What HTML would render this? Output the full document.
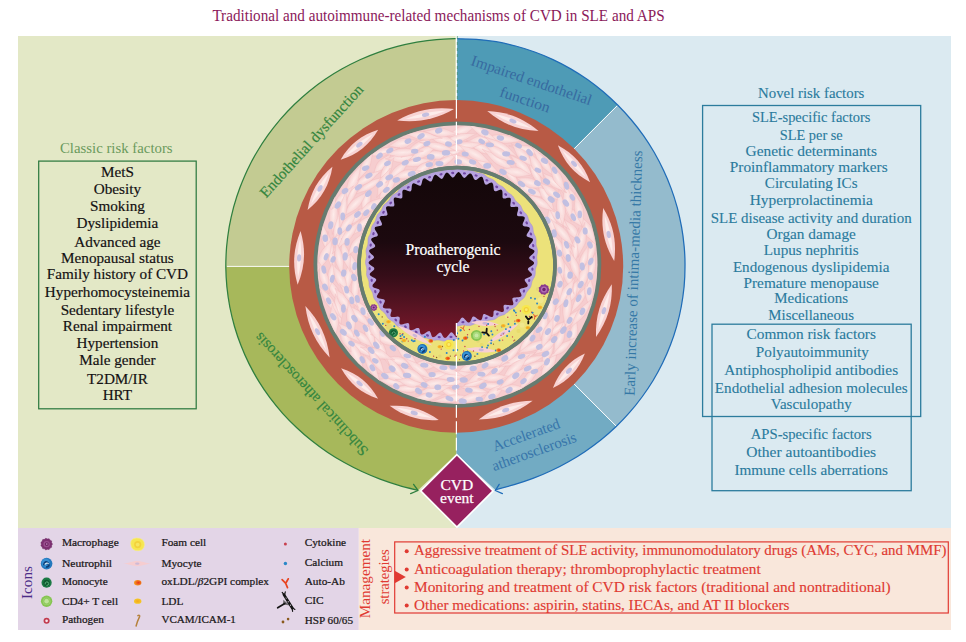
<!DOCTYPE html>
<html><head><meta charset="utf-8"><title>CVD in SLE and APS</title>
<style>html,body{margin:0;padding:0;background:#fff}body{width:966px;height:642px;overflow:hidden}svg{display:block;font-family:"Liberation Serif",serif}</style>
</head><body>
<svg width="966" height="642" viewBox="0 0 966 642">
<defs>
<linearGradient id="lum" x1="0.5" y1="0" x2="0.5" y2="1"><stop offset="0" stop-color="#130709"/><stop offset="0.42" stop-color="#1c090f"/><stop offset="0.62" stop-color="#350d18"/><stop offset="0.82" stop-color="#5a1423"/><stop offset="1" stop-color="#7c182b"/></linearGradient>
<radialGradient id="sp" cx="0.5" cy="0.5" r="0.6"><stop offset="0" stop-color="#fef1ef"/><stop offset="1" stop-color="#f6c8ca"/></radialGradient>
<clipPath id="mediaclip"><path clip-rule="evenodd" d="M317.3,264.6 a140.1,139.4 0 1,0 280.2,0 a140.1,139.4 0 1,0 -280.2,0 Z M360,265.6 a97,97 0 1,0 194,0 a97,97 0 1,0 -194,0 Z"/></clipPath>
<clipPath id="plaqueclip"><circle cx="457" cy="265.6" r="97"/></clipPath>
</defs>
<rect x="18" y="36" width="438.5" height="492" fill="#e3e8c6"/>
<rect x="456.5" y="36" width="494.5" height="492" fill="#dbeaf1"/>
<rect x="18" y="528" width="340.8" height="102" fill="#e3d5e7"/>
<rect x="358.8" y="528" width="592.2" height="102" fill="#f9e7db"/>
<path d="M456.5,38.7 C453.2,38.8 443.2,39 436.6,39.6 C430,40.1 423.4,41 416.9,42.1 C410.4,43.3 403.9,44.7 397.5,46.4 C391,48.1 384.7,50 378.4,52.3 C372.2,54.5 366,57 360,59.7 C353.9,62.5 348,65.5 342.2,68.8 C336.4,72 330.7,75.5 325.2,79.3 C319.7,83 314.4,87 309.2,91.2 C304.1,95.4 299.1,99.9 294.3,104.5 C289.5,109.2 284.9,114.1 280.5,119.1 C276.2,124.2 272,129.5 268.1,134.9 C264.2,140.3 260.5,145.9 257.1,151.7 C253.7,157.4 250.5,163.4 247.6,169.4 C244.8,175.5 242.1,181.7 239.8,188 C237.4,194.2 235.4,200.7 233.6,207.1 C231.9,213.6 230.4,220.2 229.2,226.8 C228.1,233.4 227.2,240.1 226.6,246.8 C226.1,253.5 226,263.6 225.8,266.9 L456.5,266.4 Z" fill="#c3cb92"/>
<path d="M225.8,266.9 C226,270.3 226.3,280.4 226.9,287 C227.6,293.7 228.6,300.4 229.8,307 C231.1,313.5 232.7,320.1 234.5,326.5 C236.4,333 238.5,339.3 241,345.5 C243.4,351.8 246.1,357.9 249.1,363.9 C252.1,369.8 255.3,375.7 258.8,381.3 C262.3,387 266.1,392.5 270,397.9 C274,403.2 278.2,408.3 282.6,413.3 C287,418.2 291.7,423 296.5,427.5 C301.3,432.1 306.3,436.4 311.5,440.5 C316.6,444.6 322,448.5 327.4,452.2 C332.9,455.9 338.5,459.3 344.3,462.5 C350,465.7 355.9,468.7 361.9,471.5 C367.8,474.2 373.9,476.8 380.1,479.1 C386.2,481.4 392.5,483.5 398.8,485.3 C405.2,487.2 414.8,489.5 418,490.3 L456.5,454 L456.5,266.4 Z" fill="#a7b85b"/>
<path d="M456.5,38.7 C459.8,38.8 469.8,38.8 476.4,39.3 C483,39.8 489.6,40.6 496.2,41.7 C502.7,42.8 509.2,44.3 515.6,46 C522.1,47.7 528.4,49.7 534.7,52 C540.9,54.2 547,56.8 553,59.6 C559.1,62.4 565,65.5 570.7,68.9 C576.4,72.2 582,75.8 587.5,79.6 C592.9,83.5 598.2,87.5 603.3,91.8 C608.3,96 615.4,102.9 617.8,105.1 L456.5,266.4 Z" fill="#4e9bb6"/>
<path d="M617.8,105.1 C620,107.6 627.1,114.9 631.4,120 C635.7,125.1 639.7,130.3 643.5,135.7 C647.4,141.2 650.9,146.8 654.3,152.5 C657.6,158.3 660.7,164.2 663.5,170.2 C666.4,176.2 668.9,182.4 671.2,188.6 C673.5,194.8 675.5,201.2 677.3,207.6 C679,214 680.4,220.5 681.6,227.1 C682.8,233.6 683.6,240.3 684.2,246.9 C684.8,253.5 685.1,260.2 685,266.8 C685,273.5 684.7,280.1 684.1,286.8 C683.4,293.4 682.5,300 681.3,306.5 C680.1,313 678.6,319.5 676.8,325.9 C675,332.3 672.9,338.7 670.5,344.8 C668.2,351 665.5,357.1 662.6,363.1 C659.7,369 656.5,374.9 653.1,380.5 C649.6,386.2 645.9,391.7 642,397 C638.1,402.3 633.9,407.6 629.6,412.4 C625.3,417.3 618.6,424 616.4,426.3 L456.5,266.4 Z" fill="#94bbcd"/>
<path d="M616.4,426.3 C616.3,426.3 618.5,424.5 615.9,426.7 C613.4,428.9 606.2,435.6 601.1,439.7 C596,443.8 590.6,447.7 585.2,451.4 C579.8,455.1 574.2,458.5 568.5,461.7 C562.8,465 556.9,468 551,470.7 C545.1,473.5 539,476.1 532.9,478.4 C526.7,480.7 520.5,482.8 514.2,484.7 C507.9,486.6 498.3,489 495.1,489.8 L456.5,454 L456.5,266.4 Z" fill="#72abc3"/>
<line x1="227" y1="266.4" x2="292" y2="266.4" stroke="#fff" stroke-width="0.9"/>
<line x1="573.2" y1="149.7" x2="617.8" y2="105.1" stroke="#fff" stroke-width="1"/>
<line x1="573.2" y1="383.1" x2="616.4" y2="426.3" stroke="#fff" stroke-width="1"/>
<path d="M456.5,38.7 C453.2,38.8 443.2,39 436.6,39.6 C430,40.1 423.4,41 416.9,42.1 C410.4,43.3 403.9,44.7 397.5,46.4 C391,48.1 384.7,50 378.4,52.3 C372.2,54.5 366,57 360,59.7 C353.9,62.5 348,65.5 342.2,68.8 C336.4,72 330.7,75.5 325.2,79.3 C319.7,83 314.4,87 309.2,91.2 C304.1,95.4 299.1,99.9 294.3,104.5 C289.5,109.2 284.9,114.1 280.5,119.1 C276.2,124.2 272,129.5 268.1,134.9 C264.2,140.3 260.5,145.9 257.1,151.7 C253.7,157.4 250.5,163.4 247.6,169.4 C244.8,175.5 242.1,181.7 239.8,188 C237.4,194.2 235.4,200.7 233.6,207.1 C231.9,213.6 230.4,220.2 229.2,226.8 C228.1,233.4 227.2,240.1 226.6,246.8 C226.1,253.5 225.8,260.2 225.8,266.9 C225.9,273.6 226.3,280.4 226.9,287 C227.6,293.7 228.6,300.4 229.8,307 C231.1,313.5 232.7,320.1 234.5,326.5 C236.4,333 238.5,339.3 241,345.5 C243.4,351.8 246.1,357.9 249.1,363.9 C252.1,369.8 255.3,375.7 258.8,381.3 C262.3,387 266.1,392.5 270,397.9 C274,403.2 278.2,408.3 282.6,413.3 C287,418.2 291.7,423 296.5,427.5 C301.3,432.1 306.3,436.4 311.5,440.5 C316.6,444.6 322,448.5 327.4,452.2 C332.9,455.9 338.5,459.3 344.3,462.5 C350,465.7 355.9,468.7 361.9,471.5 C367.8,474.2 373.9,476.8 380.1,479.1 C386.2,481.4 392.5,483.5 398.8,485.3 C405.2,487.2 414.8,489.5 418,490.3" fill="none" stroke="#2f7f3f" stroke-width="1.25"/>
<path d="M456.5,38.7 C459.8,38.8 469.8,38.8 476.4,39.3 C483,39.8 489.6,40.6 496.2,41.7 C502.7,42.8 509.2,44.3 515.6,46 C522.1,47.7 528.4,49.7 534.7,52 C540.9,54.2 547,56.8 553,59.6 C559.1,62.4 565,65.5 570.7,68.9 C576.4,72.2 582,75.8 587.5,79.6 C592.9,83.5 598.2,87.5 603.3,91.8 C608.3,96.1 613.2,100.6 617.9,105.3 C622.6,110 627.1,114.9 631.4,120 C635.7,125 639.7,130.3 643.5,135.7 C647.4,141.2 650.9,146.8 654.3,152.5 C657.6,158.3 660.7,164.2 663.5,170.2 C666.4,176.2 668.9,182.4 671.2,188.6 C673.5,194.8 675.5,201.2 677.3,207.6 C679,214 680.4,220.5 681.6,227.1 C682.8,233.6 683.6,240.3 684.2,246.9 C684.8,253.5 685.1,260.2 685,266.8 C685,273.5 684.7,280.1 684.1,286.8 C683.4,293.4 682.5,300 681.3,306.5 C680.1,313 678.6,319.5 676.8,325.9 C675,332.3 672.9,338.7 670.5,344.8 C668.2,351 665.5,357.1 662.6,363.1 C659.7,369 656.5,374.9 653.1,380.5 C649.6,386.2 645.9,391.7 642,397 C638.1,402.3 634,407.5 629.6,412.4 C625.3,417.4 620.7,422.2 615.9,426.7 C611.2,431.2 606.2,435.6 601.1,439.7 C596,443.8 590.6,447.7 585.2,451.4 C579.8,455.1 574.2,458.5 568.5,461.7 C562.8,465 556.9,468 551,470.7 C545.1,473.5 539,476.1 532.9,478.4 C526.7,480.7 520.5,482.8 514.2,484.7 C507.9,486.6 498.3,489 495.1,489.8" fill="none" stroke="#1f6cb8" stroke-width="1.25"/>
<path d="M413.6,484.4 L418,490.5 L410.6,493.6" fill="none" stroke="#2f7f3f" stroke-width="1.3" stroke-linecap="round" stroke-linejoin="round"/>
<path d="M499.2,484.4 L495.3,490.5 L502.4,493.6" fill="none" stroke="#1f6cb8" stroke-width="1.3" stroke-linecap="round" stroke-linejoin="round"/>
<ellipse cx="456.2" cy="266.4" rx="167" ry="166.3" fill="#b85a45"/>
<path d="M-27,0 C-8.1,-6.5 8.1,-6.5 27,0 C8.1,6.5 -8.1,6.5 -27,0 Z" fill="#f8d3d3" transform="translate(299.1,257.9) rotate(-86.9)"/>
<path d="M-19.4,0 C-5.8,-2.5 5.8,-2.5 19.4,0 C5.8,2.5 -5.8,2.5 -19.4,0 Z" fill="#fdecea" transform="translate(299.1,257.9) rotate(-86.9)"/>
<ellipse cx="299.1" cy="257.9" rx="3.7" ry="2.1" fill="#c3bfe0" transform="rotate(-86.9 299.1 257.9)"/>
<path d="M-25,0 C-7.5,-6.5 7.5,-6.5 25,0 C7.5,6.5 -7.5,6.5 -25,0 Z" fill="#f8d3d3" transform="translate(320,188.4) rotate(-60.2)"/>
<path d="M-18,0 C-5.4,-2.5 5.4,-2.5 18,0 C5.4,2.5 -5.4,2.5 -18,0 Z" fill="#fdecea" transform="translate(320,188.4) rotate(-60.2)"/>
<ellipse cx="320" cy="188.4" rx="3.7" ry="2.1" fill="#c3bfe0" transform="rotate(-60.2 320 188.4)"/>
<path d="M-24,0 C-7.2,-6.5 7.2,-6.5 24,0 C7.2,6.5 -7.2,6.5 -24,0 Z" fill="#f8d3d3" transform="translate(359.4,144.7) rotate(-38.5)"/>
<path d="M-17.3,0 C-5.2,-2.5 5.2,-2.5 17.3,0 C5.2,2.5 -5.2,2.5 -17.3,0 Z" fill="#fdecea" transform="translate(359.4,144.7) rotate(-38.5)"/>
<ellipse cx="359.4" cy="144.7" rx="3.7" ry="2.1" fill="#c3bfe0" transform="rotate(-38.5 359.4 144.7)"/>
<path d="M-29,0 C-8.7,-6.5 8.7,-6.5 29,0 C8.7,6.5 -8.7,6.5 -29,0 Z" fill="#f8d3d3" transform="translate(425.6,114.8) rotate(-11.4)"/>
<path d="M-20.9,0 C-6.3,-2.5 6.3,-2.5 20.9,0 C6.3,2.5 -6.3,2.5 -20.9,0 Z" fill="#fdecea" transform="translate(425.6,114.8) rotate(-11.4)"/>
<ellipse cx="425.6" cy="114.8" rx="3.7" ry="2.1" fill="#c3bfe0" transform="rotate(-11.4 425.6 114.8)"/>
<path d="M-27.5,0 C-8.2,-6.5 8.2,-6.5 27.5,0 C8.2,6.5 -8.2,6.5 -27.5,0 Z" fill="#f8d3d3" transform="translate(512.9,121.1) rotate(21.3)"/>
<path d="M-19.8,0 C-5.9,-2.5 5.9,-2.5 19.8,0 C5.9,2.5 -5.9,2.5 -19.8,0 Z" fill="#fdecea" transform="translate(512.9,121.1) rotate(21.3)"/>
<ellipse cx="512.9" cy="121.1" rx="3.7" ry="2.1" fill="#c3bfe0" transform="rotate(21.3 512.9 121.1)"/>
<path d="M-24.5,0 C-7.3,-6.5 7.3,-6.5 24.5,0 C7.3,6.5 -7.3,6.5 -24.5,0 Z" fill="#f8d3d3" transform="translate(574,163.7) rotate(48.9)"/>
<path d="M-17.6,0 C-5.3,-2.5 5.3,-2.5 17.6,0 C5.3,2.5 -5.3,2.5 -17.6,0 Z" fill="#fdecea" transform="translate(574,163.7) rotate(48.9)"/>
<ellipse cx="574" cy="163.7" rx="3.7" ry="2.1" fill="#c3bfe0" transform="rotate(48.9 574 163.7)"/>
<path d="M-27,0 C-8.1,-6.5 8.1,-6.5 27,0 C8.1,6.5 -8.1,6.5 -27,0 Z" fill="#f8d3d3" transform="translate(608.7,234.5) rotate(78.2)"/>
<path d="M-19.4,0 C-5.8,-2.5 5.8,-2.5 19.4,0 C5.8,2.5 -5.8,2.5 -19.4,0 Z" fill="#fdecea" transform="translate(608.7,234.5) rotate(78.2)"/>
<ellipse cx="608.7" cy="234.5" rx="3.7" ry="2.1" fill="#c3bfe0" transform="rotate(78.2 608.7 234.5)"/>
<path d="M-27.5,0 C-8.2,-6.5 8.2,-6.5 27.5,0 C8.2,6.5 -8.2,6.5 -27.5,0 Z" fill="#f8d3d3" transform="translate(603.9,310.7) rotate(106.7)"/>
<path d="M-19.8,0 C-5.9,-2.5 5.9,-2.5 19.8,0 C5.9,2.5 -5.9,2.5 -19.8,0 Z" fill="#fdecea" transform="translate(603.9,310.7) rotate(106.7)"/>
<ellipse cx="603.9" cy="310.7" rx="3.7" ry="2.1" fill="#c3bfe0" transform="rotate(106.7 603.9 310.7)"/>
<path d="M-23.5,0 C-7,-6.5 7,-6.5 23.5,0 C7,6.5 -7,6.5 -23.5,0 Z" fill="#f8d3d3" transform="translate(568.9,370.8) rotate(132.8)"/>
<path d="M-16.9,0 C-5.1,-2.5 5.1,-2.5 16.9,0 C5.1,2.5 -5.1,2.5 -16.9,0 Z" fill="#fdecea" transform="translate(568.9,370.8) rotate(132.8)"/>
<ellipse cx="568.9" cy="370.8" rx="3.7" ry="2.1" fill="#c3bfe0" transform="rotate(132.8 568.9 370.8)"/>
<path d="M-28.5,0 C-8.5,-6.5 8.5,-6.5 28.5,0 C8.5,6.5 -8.5,6.5 -28.5,0 Z" fill="#f8d3d3" transform="translate(505.7,410.1) rotate(161)"/>
<path d="M-20.5,0 C-6.2,-2.5 6.2,-2.5 20.5,0 C6.2,2.5 -6.2,2.5 -20.5,0 Z" fill="#fdecea" transform="translate(505.7,410.1) rotate(161)"/>
<ellipse cx="505.7" cy="410.1" rx="3.7" ry="2.1" fill="#c3bfe0" transform="rotate(161 505.7 410.1)"/>
<path d="M-25.5,0 C-7.6,-6.5 7.6,-6.5 25.5,0 C7.6,6.5 -7.6,6.5 -25.5,0 Z" fill="#f8d3d3" transform="translate(414.2,412.9) rotate(196)"/>
<path d="M-18.4,0 C-5.5,-2.5 5.5,-2.5 18.4,0 C5.5,2.5 -5.5,2.5 -18.4,0 Z" fill="#fdecea" transform="translate(414.2,412.9) rotate(196)"/>
<ellipse cx="414.2" cy="412.9" rx="3.7" ry="2.1" fill="#c3bfe0" transform="rotate(196 414.2 412.9)"/>
<path d="M-24,0 C-7.2,-6.5 7.2,-6.5 24,0 C7.2,6.5 -7.2,6.5 -24,0 Z" fill="#f8d3d3" transform="translate(359.6,383.5) rotate(219.5)"/>
<path d="M-17.3,0 C-5.2,-2.5 5.2,-2.5 17.3,0 C5.2,2.5 -5.2,2.5 -17.3,0 Z" fill="#fdecea" transform="translate(359.6,383.5) rotate(219.5)"/>
<ellipse cx="359.6" cy="383.5" rx="3.7" ry="2.1" fill="#c3bfe0" transform="rotate(219.5 359.6 383.5)"/>
<path d="M-28.5,0 C-8.5,-6.5 8.5,-6.5 28.5,0 C8.5,6.5 -8.5,6.5 -28.5,0 Z" fill="#f8d3d3" transform="translate(317.5,331.7) rotate(244.8)"/>
<path d="M-20.5,0 C-6.2,-2.5 6.2,-2.5 20.5,0 C6.2,2.5 -6.2,2.5 -20.5,0 Z" fill="#fdecea" transform="translate(317.5,331.7) rotate(244.8)"/>
<ellipse cx="317.5" cy="331.7" rx="3.7" ry="2.1" fill="#c3bfe0" transform="rotate(244.8 317.5 331.7)"/>
<ellipse cx="457.4" cy="264.6" rx="143.9" ry="143.2" fill="#667c70"/>
<ellipse cx="457.4" cy="264.6" rx="140.1" ry="139.4" fill="#f6cdcf"/>
<g clip-path="url(#mediaclip)">
<g transform="translate(451.1,383) rotate(167.4)" opacity="0.85"><path d="M-16.8,0 C-9.2,-1.1 -5,-4.5 0,-4.5 C5,-4.5 9.2,-1.1 16.8,0 C9.2,1.1 5,4.5 0,4.5 C-5,4.5 -9.2,1.1 -16.8,0 Z" fill="url(#sp)" stroke="#f0b4b8" stroke-width="0.35"/></g>
<g transform="translate(325,238) rotate(258)" opacity="0.85"><path d="M-17.9,0 C-9.8,-1 -5.4,-3.8 0,-3.8 C5.4,-3.8 9.8,-1 17.9,0 C9.8,1 5.4,3.8 0,3.8 C-5.4,3.8 -9.8,1 -17.9,0 Z" fill="url(#sp)" stroke="#f0b4b8" stroke-width="0.35"/></g>
<g transform="translate(493.4,386.2) rotate(185.2)" opacity="0.85"><path d="M-20.2,0 C-11.1,-0.9 -6.1,-3.8 0,-3.8 C6.1,-3.8 11.1,-0.9 20.2,0 C11.1,0.9 6.1,3.8 0,3.8 C-6.1,3.8 -11.1,0.9 -20.2,0 Z" fill="url(#sp)" stroke="#f0b4b8" stroke-width="0.35"/></g>
<g transform="translate(461.7,130.9) rotate(339)" opacity="0.85"><path d="M-16.9,0 C-9.3,-1.2 -5.1,-4.7 0,-4.7 C5.1,-4.7 9.3,-1.2 16.9,0 C9.3,1.2 5.1,4.7 0,4.7 C-5.1,4.7 -9.3,1.2 -16.9,0 Z" fill="url(#sp)" stroke="#f0b4b8" stroke-width="0.35"/></g>
<g transform="translate(476.2,382) rotate(157.3)" opacity="0.85"><path d="M-19.7,0 C-10.8,-1 -5.9,-3.9 0,-3.9 C5.9,-3.9 10.8,-1 19.7,0 C10.8,1 5.9,3.9 0,3.9 C-5.9,3.9 -10.8,1 -19.7,0 Z" fill="url(#sp)" stroke="#f0b4b8" stroke-width="0.35"/></g>
<g transform="translate(481.5,148) rotate(386.5)" opacity="0.85"><path d="M-16.9,0 C-9.3,-1.2 -5.1,-4.8 0,-4.8 C5.1,-4.8 9.3,-1.2 16.9,0 C9.3,1.2 5.1,4.8 0,4.8 C-5.1,4.8 -9.3,1.2 -16.9,0 Z" fill="url(#sp)" stroke="#f0b4b8" stroke-width="0.35"/></g>
<g transform="translate(381.7,165.3) rotate(308.3)" opacity="0.85"><path d="M-16.1,0 C-8.9,-1.2 -4.8,-4.9 0,-4.9 C4.8,-4.9 8.9,-1.2 16.1,0 C8.9,1.2 4.8,4.9 0,4.9 C-4.8,4.9 -8.9,1.2 -16.1,0 Z" fill="url(#sp)" stroke="#f0b4b8" stroke-width="0.35"/></g>
<g transform="translate(402.5,158) rotate(356.9)" opacity="0.85"><path d="M-17.3,0 C-9.5,-1.2 -5.2,-4.9 0,-4.9 C5.2,-4.9 9.5,-1.2 17.3,0 C9.5,1.2 5.2,4.9 0,4.9 C-5.2,4.9 -9.5,1.2 -17.3,0 Z" fill="url(#sp)" stroke="#f0b4b8" stroke-width="0.35"/></g>
<g transform="translate(392.2,382) rotate(190.1)" opacity="0.85"><path d="M-15.5,0 C-8.6,-1 -4.7,-4 0,-4 C4.7,-4 8.6,-1 15.5,0 C8.6,1 4.7,4 0,4 C-4.7,4 -8.6,1 -15.5,0 Z" fill="url(#sp)" stroke="#f0b4b8" stroke-width="0.35"/></g>
<g transform="translate(450.3,392.8) rotate(206.7)" opacity="0.85"><path d="M-16.5,0 C-9.1,-1 -4.9,-3.9 0,-3.9 C4.9,-3.9 9.1,-1 16.5,0 C9.1,1 4.9,3.9 0,3.9 C-4.9,3.9 -9.1,1 -16.5,0 Z" fill="url(#sp)" stroke="#f0b4b8" stroke-width="0.35"/></g>
<g transform="translate(527.1,340.8) rotate(119.2)" opacity="0.85"><path d="M-18.4,0 C-10.1,-1.2 -5.5,-4.6 0,-4.6 C5.5,-4.6 10.1,-1.2 18.4,0 C10.1,1.2 5.5,4.6 0,4.6 C-5.5,4.6 -10.1,1.2 -18.4,0 Z" fill="url(#sp)" stroke="#f0b4b8" stroke-width="0.35"/></g>
<g transform="translate(425.3,365) rotate(174.6)" opacity="0.85"><path d="M-17.5,0 C-9.6,-1.2 -5.3,-5 0,-5 C5.3,-5 9.6,-1.2 17.5,0 C9.6,1.2 5.3,5 0,5 C-5.3,5 -9.6,1.2 -17.5,0 Z" fill="url(#sp)" stroke="#f0b4b8" stroke-width="0.35"/></g>
<g transform="translate(357.5,215.9) rotate(312.5)" opacity="0.85"><path d="M-15.4,0 C-8.5,-1 -4.6,-4.1 0,-4.1 C4.6,-4.1 8.5,-1 15.4,0 C8.5,1 4.6,4.1 0,4.1 C-4.6,4.1 -8.5,1 -15.4,0 Z" fill="url(#sp)" stroke="#f0b4b8" stroke-width="0.35"/></g>
<g transform="translate(481.5,139.8) rotate(352.1)" opacity="0.85"><path d="M-16.5,0 C-9.1,-1.1 -4.9,-4.5 0,-4.5 C4.9,-4.5 9.1,-1.1 16.5,0 C9.1,1.1 4.9,4.5 0,4.5 C-4.9,4.5 -9.1,1.1 -16.5,0 Z" fill="url(#sp)" stroke="#f0b4b8" stroke-width="0.35"/></g>
<g transform="translate(476.9,390.8) rotate(194.6)" opacity="0.85"><path d="M-17.9,0 C-9.9,-1 -5.4,-3.8 0,-3.8 C5.4,-3.8 9.9,-1 17.9,0 C9.9,1 5.4,3.8 0,3.8 C-5.4,3.8 -9.9,1 -17.9,0 Z" fill="url(#sp)" stroke="#f0b4b8" stroke-width="0.35"/></g>
<g transform="translate(436.3,155) rotate(363.9)" opacity="0.85"><path d="M-18.7,0 C-10.3,-1.1 -5.6,-4.4 0,-4.4 C5.6,-4.4 10.3,-1.1 18.7,0 C10.3,1.1 5.6,4.4 0,4.4 C-5.6,4.4 -10.3,1.1 -18.7,0 Z" fill="url(#sp)" stroke="#f0b4b8" stroke-width="0.35"/></g>
<g transform="translate(498,369.8) rotate(138.6)" opacity="0.85"><path d="M-16,0 C-8.8,-1 -4.8,-3.9 0,-3.9 C4.8,-3.9 8.8,-1 16,0 C8.8,1 4.8,3.9 0,3.9 C-4.8,3.9 -8.8,1 -16,0 Z" fill="url(#sp)" stroke="#f0b4b8" stroke-width="0.35"/></g>
<g transform="translate(330.4,251.8) rotate(263.2)" opacity="0.85"><path d="M-20.8,0 C-11.5,-1 -6.2,-4.1 0,-4.1 C6.2,-4.1 11.5,-1 20.8,0 C11.5,1 6.2,4.1 0,4.1 C-6.2,4.1 -11.5,1 -20.8,0 Z" fill="url(#sp)" stroke="#f0b4b8" stroke-width="0.35"/></g>
<g transform="translate(486.9,165.6) rotate(393.3)" opacity="0.85"><path d="M-16.9,0 C-9.3,-1 -5.1,-3.9 0,-3.9 C5.1,-3.9 9.3,-1 16.9,0 C9.3,1 5.1,3.9 0,3.9 C-5.1,3.9 -9.3,1 -16.9,0 Z" fill="url(#sp)" stroke="#f0b4b8" stroke-width="0.35"/></g>
<g transform="translate(380.9,348.1) rotate(244.2)" opacity="0.85"><path d="M-20.3,0 C-11.1,-1 -6.1,-3.9 0,-3.9 C6.1,-3.9 11.1,-1 20.3,0 C11.1,1 6.1,3.9 0,3.9 C-6.1,3.9 -11.1,1 -20.3,0 Z" fill="url(#sp)" stroke="#f0b4b8" stroke-width="0.35"/></g>
<g transform="translate(557.4,328.8) rotate(146.2)" opacity="0.85"><path d="M-20,0 C-11,-0.9 -6,-3.8 0,-3.8 C6,-3.8 11,-0.9 20,0 C11,0.9 6,3.8 0,3.8 C-6,3.8 -11,0.9 -20,0 Z" fill="url(#sp)" stroke="#f0b4b8" stroke-width="0.35"/></g>
<g transform="translate(573.7,333.1) rotate(99.3)" opacity="0.85"><path d="M-16.8,0 C-9.2,-1 -5,-4.1 0,-4.1 C5,-4.1 9.2,-1 16.8,0 C9.2,1 5,4.1 0,4.1 C-5,4.1 -9.2,1 -16.8,0 Z" fill="url(#sp)" stroke="#f0b4b8" stroke-width="0.35"/></g>
<g transform="translate(529,189.9) rotate(384)" opacity="0.85"><path d="M-20.5,0 C-11.3,-1.2 -6.1,-4.7 0,-4.7 C6.1,-4.7 11.3,-1.2 20.5,0 C11.3,1.2 6.1,4.7 0,4.7 C-6.1,4.7 -11.3,1.2 -20.5,0 Z" fill="url(#sp)" stroke="#f0b4b8" stroke-width="0.35"/></g>
<g transform="translate(402.5,143.3) rotate(348.4)" opacity="0.85"><path d="M-15,0 C-8.3,-1.2 -4.5,-5 0,-5 C4.5,-5 8.3,-1.2 15,0 C8.3,1.2 4.5,5 0,5 C-4.5,5 -8.3,1.2 -15,0 Z" fill="url(#sp)" stroke="#f0b4b8" stroke-width="0.35"/></g>
<g transform="translate(387.8,187) rotate(302)" opacity="0.85"><path d="M-20.2,0 C-11.1,-1.2 -6.1,-4.9 0,-4.9 C6.1,-4.9 11.1,-1.2 20.2,0 C11.1,1.2 6.1,4.9 0,4.9 C-6.1,4.9 -11.1,1.2 -20.2,0 Z" fill="url(#sp)" stroke="#f0b4b8" stroke-width="0.35"/></g>
<g transform="translate(552,220.6) rotate(443.7)" opacity="0.85"><path d="M-18.7,0 C-10.3,-1.2 -5.6,-4.7 0,-4.7 C5.6,-4.7 10.3,-1.2 18.7,0 C10.3,1.2 5.6,4.7 0,4.7 C-5.6,4.7 -10.3,1.2 -18.7,0 Z" fill="url(#sp)" stroke="#f0b4b8" stroke-width="0.35"/></g>
<g transform="translate(480.1,375.6) rotate(149.7)" opacity="0.85"><path d="M-18.6,0 C-10.2,-1.1 -5.6,-4.3 0,-4.3 C5.6,-4.3 10.2,-1.1 18.6,0 C10.2,1.1 5.6,4.3 0,4.3 C-5.6,4.3 -10.2,1.1 -18.6,0 Z" fill="url(#sp)" stroke="#f0b4b8" stroke-width="0.35"/></g>
<g transform="translate(545.4,195.2) rotate(421.7)" opacity="0.85"><path d="M-21,0 C-11.5,-1.1 -6.3,-4.3 0,-4.3 C6.3,-4.3 11.5,-1.1 21,0 C11.5,1.1 6.3,4.3 0,4.3 C-6.3,4.3 -11.5,1.1 -21,0 Z" fill="url(#sp)" stroke="#f0b4b8" stroke-width="0.35"/></g>
<g transform="translate(579.6,299) rotate(122.2)" opacity="0.85"><path d="M-19,0 C-10.5,-1 -5.7,-3.9 0,-3.9 C5.7,-3.9 10.5,-1 19,0 C10.5,1 5.7,3.9 0,3.9 C-5.7,3.9 -10.5,1 -19,0 Z" fill="url(#sp)" stroke="#f0b4b8" stroke-width="0.35"/></g>
<g transform="translate(558.4,245.4) rotate(417.5)" opacity="0.85"><path d="M-19.4,0 C-10.7,-1 -5.8,-4 0,-4 C5.8,-4 10.7,-1 19.4,0 C10.7,1 5.8,4 0,4 C-5.8,4 -10.7,1 -19.4,0 Z" fill="url(#sp)" stroke="#f0b4b8" stroke-width="0.35"/></g>
<g transform="translate(334.6,291) rotate(238.8)" opacity="0.85"><path d="M-20.6,0 C-11.3,-1 -6.2,-4 0,-4 C6.2,-4 11.3,-1 20.6,0 C11.3,1 6.2,4 0,4 C-6.2,4 -11.3,1 -20.6,0 Z" fill="url(#sp)" stroke="#f0b4b8" stroke-width="0.35"/></g>
<g transform="translate(347.7,278.2) rotate(281.1)" opacity="0.85"><path d="M-19.6,0 C-10.8,-1.2 -5.9,-4.9 0,-4.9 C5.9,-4.9 10.8,-1.2 19.6,0 C10.8,1.2 5.9,4.9 0,4.9 C-5.9,4.9 -10.8,1.2 -19.6,0 Z" fill="url(#sp)" stroke="#f0b4b8" stroke-width="0.35"/></g>
<g transform="translate(418.2,146.2) rotate(326.9)" opacity="0.85"><path d="M-20.7,0 C-11.4,-1 -6.2,-3.9 0,-3.9 C6.2,-3.9 11.4,-1 20.7,0 C11.4,1 6.2,3.9 0,3.9 C-6.2,3.9 -11.4,1 -20.7,0 Z" fill="url(#sp)" stroke="#f0b4b8" stroke-width="0.35"/></g>
<g transform="translate(353.1,265.5) rotate(248.3)" opacity="0.85"><path d="M-20.2,0 C-11.1,-1 -6.1,-4.1 0,-4.1 C6.1,-4.1 11.1,-1 20.2,0 C11.1,1 6.1,4.1 0,4.1 C-6.1,4.1 -11.1,1 -20.2,0 Z" fill="url(#sp)" stroke="#f0b4b8" stroke-width="0.35"/></g>
<g transform="translate(569.8,320.1) rotate(133.7)" opacity="0.85"><path d="M-17.7,0 C-9.7,-1 -5.3,-4.2 0,-4.2 C5.3,-4.2 9.7,-1 17.7,0 C9.7,1 5.3,4.2 0,4.2 C-5.3,4.2 -9.7,1 -17.7,0 Z" fill="url(#sp)" stroke="#f0b4b8" stroke-width="0.35"/></g>
<g transform="translate(386.4,170.7) rotate(300.1)" opacity="0.85"><path d="M-15.1,0 C-8.3,-1.1 -4.5,-4.3 0,-4.3 C4.5,-4.3 8.3,-1.1 15.1,0 C8.3,1.1 4.5,4.3 0,4.3 C-4.5,4.3 -8.3,1.1 -15.1,0 Z" fill="url(#sp)" stroke="#f0b4b8" stroke-width="0.35"/></g>
<g transform="translate(528.9,360.8) rotate(161.5)" opacity="0.85"><path d="M-19.2,0 C-10.5,-1 -5.7,-3.8 0,-3.8 C5.7,-3.8 10.5,-1 19.2,0 C10.5,1 5.7,3.8 0,3.8 C-5.7,3.8 -10.5,1 -19.2,0 Z" fill="url(#sp)" stroke="#f0b4b8" stroke-width="0.35"/></g>
<g transform="translate(555.4,317.2) rotate(106.5)" opacity="0.85"><path d="M-17.8,0 C-9.8,-1 -5.3,-4.2 0,-4.2 C5.3,-4.2 9.8,-1 17.8,0 C9.8,1 5.3,4.2 0,4.2 C-5.3,4.2 -9.8,1 -17.8,0 Z" fill="url(#sp)" stroke="#f0b4b8" stroke-width="0.35"/></g>
<g transform="translate(572.4,230.5) rotate(413.2)" opacity="0.85"><path d="M-15.3,0 C-8.4,-1.2 -4.6,-4.7 0,-4.7 C4.6,-4.7 8.4,-1.2 15.3,0 C8.4,1.2 4.6,4.7 0,4.7 C-4.6,4.7 -8.4,1.2 -15.3,0 Z" fill="url(#sp)" stroke="#f0b4b8" stroke-width="0.35"/></g>
<g transform="translate(423.4,152.4) rotate(331.3)" opacity="0.85"><path d="M-18.1,0 C-10,-1.2 -5.4,-4.9 0,-4.9 C5.4,-4.9 10,-1.2 18.1,0 C10,1.2 5.4,4.9 0,4.9 C-5.4,4.9 -10,1.2 -18.1,0 Z" fill="url(#sp)" stroke="#f0b4b8" stroke-width="0.35"/></g>
<g transform="translate(342.5,238.6) rotate(303.8)" opacity="0.85"><path d="M-18.7,0 C-10.3,-1.1 -5.6,-4.6 0,-4.6 C5.6,-4.6 10.3,-1.1 18.7,0 C10.3,1.1 5.6,4.6 0,4.6 C-5.6,4.6 -10.3,1.1 -18.7,0 Z" fill="url(#sp)" stroke="#f0b4b8" stroke-width="0.35"/></g>
<g transform="translate(522,166.2) rotate(404.1)" opacity="0.85"><path d="M-17.3,0 C-9.5,-1.2 -5.2,-4.8 0,-4.8 C5.2,-4.8 9.5,-1.2 17.3,0 C9.5,1.2 5.2,4.8 0,4.8 C-5.2,4.8 -9.5,1.2 -17.3,0 Z" fill="url(#sp)" stroke="#f0b4b8" stroke-width="0.35"/></g>
<g transform="translate(338.1,309.7) rotate(260.3)" opacity="0.85"><path d="M-16.2,0 C-8.9,-1.2 -4.8,-4.9 0,-4.9 C4.8,-4.9 8.9,-1.2 16.2,0 C8.9,1.2 4.8,4.9 0,4.9 C-4.8,4.9 -8.9,1.2 -16.2,0 Z" fill="url(#sp)" stroke="#f0b4b8" stroke-width="0.35"/></g>
<g transform="translate(366.2,199.8) rotate(283.1)" opacity="0.85"><path d="M-15.9,0 C-8.8,-1.2 -4.8,-4.6 0,-4.6 C4.8,-4.6 8.8,-1.2 15.9,0 C8.8,1.2 4.8,4.6 0,4.6 C-4.8,4.6 -8.8,1.2 -15.9,0 Z" fill="url(#sp)" stroke="#f0b4b8" stroke-width="0.35"/></g>
<g transform="translate(549,364.4) rotate(122.6)" opacity="0.85"><path d="M-17.4,0 C-9.6,-1.2 -5.2,-5 0,-5 C5.2,-5 9.6,-1.2 17.4,0 C9.6,1.2 5.2,5 0,5 C-5.2,5 -9.6,1.2 -17.4,0 Z" fill="url(#sp)" stroke="#f0b4b8" stroke-width="0.35"/></g>
<g transform="translate(369.5,334.1) rotate(252.7)" opacity="0.85"><path d="M-18.7,0 C-10.3,-1.2 -5.6,-4.7 0,-4.7 C5.6,-4.7 10.3,-1.2 18.7,0 C10.3,1.2 5.6,4.7 0,4.7 C-5.6,4.7 -10.3,1.2 -18.7,0 Z" fill="url(#sp)" stroke="#f0b4b8" stroke-width="0.35"/></g>
<g transform="translate(518,359.7) rotate(158.4)" opacity="0.85"><path d="M-20.7,0 C-11.4,-1.2 -6.2,-4.7 0,-4.7 C6.2,-4.7 11.4,-1.2 20.7,0 C11.4,1.2 6.2,4.7 0,4.7 C-6.2,4.7 -11.4,1.2 -20.7,0 Z" fill="url(#sp)" stroke="#f0b4b8" stroke-width="0.35"/></g>
<g transform="translate(503.1,138.9) rotate(367.3)" opacity="0.85"><path d="M-20.9,0 C-11.5,-1.1 -6.3,-4.4 0,-4.4 C6.3,-4.4 11.5,-1.1 20.9,0 C11.5,1.1 6.3,4.4 0,4.4 C-6.3,4.4 -11.5,1.1 -20.9,0 Z" fill="url(#sp)" stroke="#f0b4b8" stroke-width="0.35"/></g>
<g transform="translate(362.2,224.8) rotate(314.7)" opacity="0.85"><path d="M-16.1,0 C-8.9,-1 -4.8,-4.1 0,-4.1 C4.8,-4.1 8.9,-1 16.1,0 C8.9,1 4.8,4.1 0,4.1 C-4.8,4.1 -8.9,1 -16.1,0 Z" fill="url(#sp)" stroke="#f0b4b8" stroke-width="0.35"/></g>
<g transform="translate(535.7,174.1) rotate(422.7)" opacity="0.85"><path d="M-16.7,0 C-9.2,-1 -5,-3.8 0,-3.8 C5,-3.8 9.2,-1 16.7,0 C9.2,1 5,3.8 0,3.8 C-5,3.8 -9.2,1 -16.7,0 Z" fill="url(#sp)" stroke="#f0b4b8" stroke-width="0.35"/></g>
<g transform="translate(568,192.3) rotate(401)" opacity="0.85"><path d="M-18.8,0 C-10.4,-1 -5.6,-4.1 0,-4.1 C5.6,-4.1 10.4,-1 18.8,0 C10.4,1 5.6,4.1 0,4.1 C-5.6,4.1 -10.4,1 -18.8,0 Z" fill="url(#sp)" stroke="#f0b4b8" stroke-width="0.35"/></g>
<g transform="translate(527.6,149.7) rotate(371.8)" opacity="0.85"><path d="M-19.3,0 C-10.6,-1 -5.8,-4 0,-4 C5.8,-4 10.6,-1 19.3,0 C10.6,1 5.8,4 0,4 C-5.8,4 -10.6,1 -19.3,0 Z" fill="url(#sp)" stroke="#f0b4b8" stroke-width="0.35"/></g>
<g transform="translate(324.7,255.2) rotate(294.8)" opacity="0.85"><path d="M-19.8,0 C-10.9,-1.2 -5.9,-4.8 0,-4.8 C5.9,-4.8 10.9,-1.2 19.8,0 C10.9,1.2 5.9,4.8 0,4.8 C-5.9,4.8 -10.9,1.2 -19.8,0 Z" fill="url(#sp)" stroke="#f0b4b8" stroke-width="0.35"/></g>
<g transform="translate(345.8,255.2) rotate(255.4)" opacity="0.85"><path d="M-17.7,0 C-9.7,-1.1 -5.3,-4.4 0,-4.4 C5.3,-4.4 9.7,-1.1 17.7,0 C9.7,1.1 5.3,4.4 0,4.4 C-5.3,4.4 -9.7,1.1 -17.7,0 Z" fill="url(#sp)" stroke="#f0b4b8" stroke-width="0.35"/></g>
<g transform="translate(337,228.4) rotate(273.3)" opacity="0.85"><path d="M-20.3,0 C-11.2,-1 -6.1,-3.9 0,-3.9 C6.1,-3.9 11.2,-1 20.3,0 C11.2,1 6.1,3.9 0,3.9 C-6.1,3.9 -11.2,1 -20.3,0 Z" fill="url(#sp)" stroke="#f0b4b8" stroke-width="0.35"/></g>
<g transform="translate(493.6,393.2) rotate(141.1)" opacity="0.85"><path d="M-17.2,0 C-9.5,-1.2 -5.2,-4.8 0,-4.8 C5.2,-4.8 9.5,-1.2 17.2,0 C9.5,1.2 5.2,4.8 0,4.8 C-5.2,4.8 -9.5,1.2 -17.2,0 Z" fill="url(#sp)" stroke="#f0b4b8" stroke-width="0.35"/></g>
<g transform="translate(550.9,307.3) rotate(90.9)" opacity="0.85"><path d="M-18.8,0 C-10.3,-1.1 -5.6,-4.5 0,-4.5 C5.6,-4.5 10.3,-1.1 18.8,0 C10.3,1.1 5.6,4.5 0,4.5 C-5.6,4.5 -10.3,1.1 -18.8,0 Z" fill="url(#sp)" stroke="#f0b4b8" stroke-width="0.35"/></g>
<g transform="translate(397.7,360.7) rotate(189.2)" opacity="0.85"><path d="M-17.1,0 C-9.4,-1.1 -5.1,-4.3 0,-4.3 C5.1,-4.3 9.4,-1.1 17.1,0 C9.4,1.1 5.1,4.3 0,4.3 C-5.1,4.3 -9.4,1.1 -17.1,0 Z" fill="url(#sp)" stroke="#f0b4b8" stroke-width="0.35"/></g>
<g transform="translate(370,185.2) rotate(329)" opacity="0.85"><path d="M-17.8,0 C-9.8,-1 -5.3,-3.9 0,-3.9 C5.3,-3.9 9.8,-1 17.8,0 C9.8,1 5.3,3.9 0,3.9 C-5.3,3.9 -9.8,1 -17.8,0 Z" fill="url(#sp)" stroke="#f0b4b8" stroke-width="0.35"/></g>
<g transform="translate(355.8,244.2) rotate(305.1)" opacity="0.85"><path d="M-15.9,0 C-8.7,-1 -4.8,-4 0,-4 C4.8,-4 8.7,-1 15.9,0 C8.7,1 4.8,4 0,4 C-4.8,4 -8.7,1 -15.9,0 Z" fill="url(#sp)" stroke="#f0b4b8" stroke-width="0.35"/></g>
<g transform="translate(353,191.3) rotate(292.3)" opacity="0.85"><path d="M-20.8,0 C-11.5,-1 -6.3,-3.9 0,-3.9 C6.3,-3.9 11.5,-1 20.8,0 C11.5,1 6.3,3.9 0,3.9 C-6.3,3.9 -11.5,1 -20.8,0 Z" fill="url(#sp)" stroke="#f0b4b8" stroke-width="0.35"/></g>
<g transform="translate(355.1,288.3) rotate(272.7)" opacity="0.85"><path d="M-20.2,0 C-11.1,-1 -6.1,-3.9 0,-3.9 C6.1,-3.9 11.1,-1 20.2,0 C11.1,1 6.1,3.9 0,3.9 C-6.1,3.9 -11.1,1 -20.2,0 Z" fill="url(#sp)" stroke="#f0b4b8" stroke-width="0.35"/></g>
<g transform="translate(408.6,388.7) rotate(180.3)" opacity="0.85"><path d="M-18.3,0 C-10.1,-1 -5.5,-3.8 0,-3.8 C5.5,-3.8 10.1,-1 18.3,0 C10.1,1 5.5,3.8 0,3.8 C-5.5,3.8 -10.1,1 -18.3,0 Z" fill="url(#sp)" stroke="#f0b4b8" stroke-width="0.35"/></g>
<g transform="translate(589.1,290.8) rotate(89.6)" opacity="0.85"><path d="M-18,0 C-9.9,-1.2 -5.4,-4.6 0,-4.6 C5.4,-4.6 9.9,-1.2 18,0 C9.9,1.2 5.4,4.6 0,4.6 C-5.4,4.6 -9.9,1.2 -18,0 Z" fill="url(#sp)" stroke="#f0b4b8" stroke-width="0.35"/></g>
<g transform="translate(407.5,356.8) rotate(223.2)" opacity="0.85"><path d="M-17.1,0 C-9.4,-1.1 -5.1,-4.4 0,-4.4 C5.1,-4.4 9.4,-1.1 17.1,0 C9.4,1.1 5.1,4.4 0,4.4 C-5.1,4.4 -9.4,1.1 -17.1,0 Z" fill="url(#sp)" stroke="#f0b4b8" stroke-width="0.35"/></g>
<g transform="translate(530.3,182.9) rotate(380.4)" opacity="0.85"><path d="M-15.5,0 C-8.5,-1.2 -4.7,-4.8 0,-4.8 C4.7,-4.8 8.5,-1.2 15.5,0 C8.5,1.2 4.7,4.8 0,4.8 C-4.7,4.8 -8.5,1.2 -15.5,0 Z" fill="url(#sp)" stroke="#f0b4b8" stroke-width="0.35"/></g>
<g transform="translate(454.5,152.3) rotate(335)" opacity="0.85"><path d="M-15.6,0 C-8.6,-1 -4.7,-4.1 0,-4.1 C4.7,-4.1 8.6,-1 15.6,0 C8.6,1 4.7,4.1 0,4.1 C-4.7,4.1 -8.6,1 -15.6,0 Z" fill="url(#sp)" stroke="#f0b4b8" stroke-width="0.35"/></g>
<g transform="translate(348.6,234.5) rotate(308.7)" opacity="0.85"><path d="M-20.4,0 C-11.2,-1 -6.1,-4 0,-4 C6.1,-4 11.2,-1 20.4,0 C11.2,1 6.1,4 0,4 C-6.1,4 -11.2,1 -20.4,0 Z" fill="url(#sp)" stroke="#f0b4b8" stroke-width="0.35"/></g>
<g transform="translate(575.7,248.2) rotate(458.7)" opacity="0.85"><path d="M-20.5,0 C-11.3,-1.1 -6.1,-4.4 0,-4.4 C6.1,-4.4 11.3,-1.1 20.5,0 C11.3,1.1 6.1,4.4 0,4.4 C-6.1,4.4 -11.3,1.1 -20.5,0 Z" fill="url(#sp)" stroke="#f0b4b8" stroke-width="0.35"/></g>
<g transform="translate(551.9,192.5) rotate(399)" opacity="0.85"><path d="M-16.6,0 C-9.1,-1.1 -5,-4.4 0,-4.4 C5,-4.4 9.1,-1.1 16.6,0 C9.1,1.1 5,4.4 0,4.4 C-5,4.4 -9.1,1.1 -16.6,0 Z" fill="url(#sp)" stroke="#f0b4b8" stroke-width="0.35"/></g>
<g transform="translate(558.5,217.7) rotate(407.5)" opacity="0.85"><path d="M-16.4,0 C-9,-1 -4.9,-3.9 0,-3.9 C4.9,-3.9 9,-1 16.4,0 C9,1 4.9,3.9 0,3.9 C-4.9,3.9 -9,1 -16.4,0 Z" fill="url(#sp)" stroke="#f0b4b8" stroke-width="0.35"/></g>
<g transform="translate(491.8,362.4) rotate(181.3)" opacity="0.85"><path d="M-17.8,0 C-9.8,-1.2 -5.3,-4.9 0,-4.9 C5.3,-4.9 9.8,-1.2 17.8,0 C9.8,1.2 5.3,4.9 0,4.9 C-5.3,4.9 -9.8,1.2 -17.8,0 Z" fill="url(#sp)" stroke="#f0b4b8" stroke-width="0.35"/></g>
<g transform="translate(458.8,138.1) rotate(345.5)" opacity="0.85"><path d="M-20.5,0 C-11.3,-1 -6.2,-4 0,-4 C6.2,-4 11.3,-1 20.5,0 C11.3,1 6.2,4 0,4 C-6.2,4 -11.3,1 -20.5,0 Z" fill="url(#sp)" stroke="#f0b4b8" stroke-width="0.35"/></g>
<g transform="translate(371.8,368.1) rotate(239)" opacity="0.85"><path d="M-17.5,0 C-9.6,-1 -5.3,-3.8 0,-3.8 C5.3,-3.8 9.6,-1 17.5,0 C9.6,1 5.3,3.8 0,3.8 C-5.3,3.8 -9.6,1 -17.5,0 Z" fill="url(#sp)" stroke="#f0b4b8" stroke-width="0.35"/></g>
<g transform="translate(439,376) rotate(173.3)" opacity="0.85"><path d="M-20.2,0 C-11.1,-1.2 -6.1,-4.8 0,-4.8 C6.1,-4.8 11.1,-1.2 20.2,0 C11.1,1.2 6.1,4.8 0,4.8 C-6.1,4.8 -11.1,1.2 -20.2,0 Z" fill="url(#sp)" stroke="#f0b4b8" stroke-width="0.35"/></g>
<g transform="translate(573.8,291) rotate(120.1)" opacity="0.85"><path d="M-20.3,0 C-11.2,-1.2 -6.1,-5 0,-5 C6.1,-5 11.2,-1.2 20.3,0 C11.2,1.2 6.1,5 0,5 C-6.1,5 -11.2,1.2 -20.3,0 Z" fill="url(#sp)" stroke="#f0b4b8" stroke-width="0.35"/></g>
<g transform="translate(443.7,161.9) rotate(329.3)" opacity="0.85"><path d="M-18.7,0 C-10.3,-1 -5.6,-3.8 0,-3.8 C5.6,-3.8 10.3,-1 18.7,0 C10.3,1 5.6,3.8 0,3.8 C-5.6,3.8 -10.3,1 -18.7,0 Z" fill="url(#sp)" stroke="#f0b4b8" stroke-width="0.35"/></g>
<g transform="translate(416.3,162.4) rotate(349.6)" opacity="0.85"><path d="M-17.2,0 C-9.5,-1 -5.2,-4.2 0,-4.2 C5.2,-4.2 9.5,-1 17.2,0 C9.5,1 5.2,4.2 0,4.2 C-5.2,4.2 -9.5,1 -17.2,0 Z" fill="url(#sp)" stroke="#f0b4b8" stroke-width="0.35"/></g>
<g transform="translate(482.9,132.9) rotate(390.2)" opacity="0.85"><path d="M-19.7,0 C-10.8,-0.9 -5.9,-3.8 0,-3.8 C5.9,-3.8 10.8,-0.9 19.7,0 C10.8,0.9 5.9,3.8 0,3.8 C-5.9,3.8 -10.8,0.9 -19.7,0 Z" fill="url(#sp)" stroke="#f0b4b8" stroke-width="0.35"/></g>
<g transform="translate(395.6,376.4) rotate(190.2)" opacity="0.85"><path d="M-18.2,0 C-10,-1.1 -5.5,-4.3 0,-4.3 C5.5,-4.3 10,-1.1 18.2,0 C10,1.1 5.5,4.3 0,4.3 C-5.5,4.3 -10,1.1 -18.2,0 Z" fill="url(#sp)" stroke="#f0b4b8" stroke-width="0.35"/></g>
<g transform="translate(547.9,352.8) rotate(111.6)" opacity="0.85"><path d="M-19.5,0 C-10.7,-1.1 -5.8,-4.3 0,-4.3 C5.8,-4.3 10.7,-1.1 19.5,0 C10.7,1.1 5.8,4.3 0,4.3 C-5.8,4.3 -10.7,1.1 -19.5,0 Z" fill="url(#sp)" stroke="#f0b4b8" stroke-width="0.35"/></g>
<g transform="translate(561.5,348.2) rotate(141.3)" opacity="0.85"><path d="M-16.5,0 C-9.1,-1 -4.9,-4.1 0,-4.1 C4.9,-4.1 9.1,-1 16.5,0 C9.1,1 4.9,4.1 0,4.1 C-4.9,4.1 -9.1,1 -16.5,0 Z" fill="url(#sp)" stroke="#f0b4b8" stroke-width="0.35"/></g>
<g transform="translate(573.8,216.1) rotate(405.9)" opacity="0.85"><path d="M-19.4,0 C-10.7,-1.2 -5.8,-4.8 0,-4.8 C5.8,-4.8 10.7,-1.2 19.4,0 C10.7,1.2 5.8,4.8 0,4.8 C-5.8,4.8 -10.7,1.2 -19.4,0 Z" fill="url(#sp)" stroke="#f0b4b8" stroke-width="0.35"/></g>
<g transform="translate(366,179.4) rotate(329.5)" opacity="0.85"><path d="M-19.3,0 C-10.6,-1 -5.8,-4.1 0,-4.1 C5.8,-4.1 10.6,-1 19.3,0 C10.6,1 5.8,4.1 0,4.1 C-5.8,4.1 -10.6,1 -19.3,0 Z" fill="url(#sp)" stroke="#f0b4b8" stroke-width="0.35"/></g>
<g transform="translate(511,175.3) rotate(412.5)" opacity="0.85"><path d="M-16,0 C-8.8,-0.9 -4.8,-3.8 0,-3.8 C4.8,-3.8 8.8,-0.9 16,0 C8.8,0.9 4.8,3.8 0,3.8 C-4.8,3.8 -8.8,0.9 -16,0 Z" fill="url(#sp)" stroke="#f0b4b8" stroke-width="0.35"/></g>
<g transform="translate(346.9,223.4) rotate(309.9)" opacity="0.85"><path d="M-19.2,0 C-10.5,-1.1 -5.7,-4.5 0,-4.5 C5.7,-4.5 10.5,-1.1 19.2,0 C10.5,1.1 5.7,4.5 0,4.5 C-5.7,4.5 -10.5,1.1 -19.2,0 Z" fill="url(#sp)" stroke="#f0b4b8" stroke-width="0.35"/></g>
<g transform="translate(514.5,368.7) rotate(137.4)" opacity="0.85"><path d="M-20.8,0 C-11.4,-1.2 -6.2,-5 0,-5 C6.2,-5 11.4,-1.2 20.8,0 C11.4,1.2 6.2,5 0,5 C-6.2,5 -11.4,1.2 -20.8,0 Z" fill="url(#sp)" stroke="#f0b4b8" stroke-width="0.35"/></g>
<g transform="translate(362.3,337.9) rotate(221.4)" opacity="0.85"><path d="M-15.3,0 C-8.4,-1.1 -4.6,-4.5 0,-4.5 C4.6,-4.5 8.4,-1.1 15.3,0 C8.4,1.1 4.6,4.5 0,4.5 C-4.6,4.5 -8.4,1.1 -15.3,0 Z" fill="url(#sp)" stroke="#f0b4b8" stroke-width="0.35"/></g>
<g transform="translate(443.5,140.3) rotate(374.5)" opacity="0.85"><path d="M-16.9,0 C-9.3,-1.2 -5.1,-4.8 0,-4.8 C5.1,-4.8 9.3,-1.2 16.9,0 C9.3,1.2 5.1,4.8 0,4.8 C-5.1,4.8 -9.3,1.2 -16.9,0 Z" fill="url(#sp)" stroke="#f0b4b8" stroke-width="0.35"/></g>
<g transform="translate(451.6,398.7) rotate(171.8)" opacity="0.85"><path d="M-21,0 C-11.5,-0.9 -6.3,-3.8 0,-3.8 C6.3,-3.8 11.5,-0.9 21,0 C11.5,0.9 6.3,3.8 0,3.8 C-6.3,3.8 -11.5,0.9 -21,0 Z" fill="url(#sp)" stroke="#f0b4b8" stroke-width="0.35"/></g>
<g transform="translate(561,207.8) rotate(443.4)" opacity="0.85"><path d="M-19.9,0 C-10.9,-1.1 -6,-4.5 0,-4.5 C6,-4.5 10.9,-1.1 19.9,0 C10.9,1.1 6,4.5 0,4.5 C-6,4.5 -10.9,1.1 -19.9,0 Z" fill="url(#sp)" stroke="#f0b4b8" stroke-width="0.35"/></g>
<g transform="translate(590.3,253.1) rotate(468.7)" opacity="0.85"><path d="M-18.5,0 C-10.2,-1.1 -5.5,-4.2 0,-4.2 C5.5,-4.2 10.2,-1.1 18.5,0 C10.2,1.1 5.5,4.2 0,4.2 C-5.5,4.2 -10.2,1.1 -18.5,0 Z" fill="url(#sp)" stroke="#f0b4b8" stroke-width="0.35"/></g>
<g transform="translate(567.8,275.6) rotate(71.5)" opacity="0.85"><path d="M-19.7,0 C-10.9,-1.1 -5.9,-4.3 0,-4.3 C5.9,-4.3 10.9,-1.1 19.7,0 C10.9,1.1 5.9,4.3 0,4.3 C-5.9,4.3 -10.9,1.1 -19.7,0 Z" fill="url(#sp)" stroke="#f0b4b8" stroke-width="0.35"/></g>
<g transform="translate(466.1,162) rotate(388.3)" opacity="0.85"><path d="M-18.6,0 C-10.2,-1.1 -5.6,-4.3 0,-4.3 C5.6,-4.3 10.2,-1.1 18.6,0 C10.2,1.1 5.6,4.3 0,4.3 C-5.6,4.3 -10.2,1.1 -18.6,0 Z" fill="url(#sp)" stroke="#f0b4b8" stroke-width="0.35"/></g>
<g transform="translate(331.5,274.4) rotate(280.9)" opacity="0.85"><path d="M-17.4,0 C-9.6,-0.9 -5.2,-3.8 0,-3.8 C5.2,-3.8 9.6,-0.9 17.4,0 C9.6,0.9 5.2,3.8 0,3.8 C-5.2,3.8 -9.6,0.9 -17.4,0 Z" fill="url(#sp)" stroke="#f0b4b8" stroke-width="0.35"/></g>
<g transform="translate(501.5,147.1) rotate(391.4)" opacity="0.85"><path d="M-20.5,0 C-11.3,-1 -6.2,-4.1 0,-4.1 C6.2,-4.1 11.3,-1 20.5,0 C11.3,1 6.2,4.1 0,4.1 C-6.2,4.1 -11.3,1 -20.5,0 Z" fill="url(#sp)" stroke="#f0b4b8" stroke-width="0.35"/></g>
<g transform="translate(546,346.2) rotate(144.7)" opacity="0.85"><path d="M-15.5,0 C-8.5,-1.2 -4.7,-4.8 0,-4.8 C4.7,-4.8 8.5,-1.2 15.5,0 C8.5,1.2 4.7,4.8 0,4.8 C-4.7,4.8 -8.5,1.2 -15.5,0 Z" fill="url(#sp)" stroke="#f0b4b8" stroke-width="0.35"/></g>
<g transform="translate(362.3,349.3) rotate(211)" opacity="0.85"><path d="M-21,0 C-11.5,-1 -6.3,-4.1 0,-4.1 C6.3,-4.1 11.5,-1 21,0 C11.5,1 6.3,4.1 0,4.1 C-6.3,4.1 -11.5,1 -21,0 Z" fill="url(#sp)" stroke="#f0b4b8" stroke-width="0.35"/></g>
<g transform="translate(422.7,135.9) rotate(366.8)" opacity="0.85"><path d="M-19.9,0 C-10.9,-1.1 -6,-4.3 0,-4.3 C6,-4.3 10.9,-1.1 19.9,0 C10.9,1.1 6,4.3 0,4.3 C-6,4.3 -10.9,1.1 -19.9,0 Z" fill="url(#sp)" stroke="#f0b4b8" stroke-width="0.35"/></g>
<g transform="translate(471.1,397.8) rotate(162.5)" opacity="0.85"><path d="M-18.6,0 C-10.2,-1.1 -5.6,-4.5 0,-4.5 C5.6,-4.5 10.2,-1.1 18.6,0 C10.2,1.1 5.6,4.5 0,4.5 C-5.6,4.5 -10.2,1.1 -18.6,0 Z" fill="url(#sp)" stroke="#f0b4b8" stroke-width="0.35"/></g>
<g transform="translate(422.8,168.4) rotate(324.3)" opacity="0.85"><path d="M-15.7,0 C-8.6,-1.1 -4.7,-4.5 0,-4.5 C4.7,-4.5 8.6,-1.1 15.7,0 C8.6,1.1 4.7,4.5 0,4.5 C-4.7,4.5 -8.6,1.1 -15.7,0 Z" fill="url(#sp)" stroke="#f0b4b8" stroke-width="0.35"/></g>
<g transform="translate(565.3,294) rotate(121.2)" opacity="0.85"><path d="M-20.6,0 C-11.3,-1.2 -6.2,-5 0,-5 C6.2,-5 11.3,-1.2 20.6,0 C11.3,1.2 6.2,5 0,5 C-6.2,5 -11.3,1.2 -20.6,0 Z" fill="url(#sp)" stroke="#f0b4b8" stroke-width="0.35"/></g>
<g transform="translate(567.9,253.1) rotate(430)" opacity="0.85"><path d="M-19.8,0 C-10.9,-1.2 -5.9,-5 0,-5 C5.9,-5 10.9,-1.2 19.8,0 C10.9,1.2 5.9,5 0,5 C-5.9,5 -10.9,1.2 -19.8,0 Z" fill="url(#sp)" stroke="#f0b4b8" stroke-width="0.35"/></g>
<g transform="translate(568,201.3) rotate(441.1)" opacity="0.85"><path d="M-20.5,0 C-11.3,-1.2 -6.1,-4.8 0,-4.8 C6.1,-4.8 11.3,-1.2 20.5,0 C11.3,1.2 6.1,4.8 0,4.8 C-6.1,4.8 -11.3,1.2 -20.5,0 Z" fill="url(#sp)" stroke="#f0b4b8" stroke-width="0.35"/></g>
<g transform="translate(567.2,308.4) rotate(96.6)" opacity="0.85"><path d="M-20,0 C-11,-1.2 -6,-4.6 0,-4.6 C6,-4.6 11,-1.2 20,0 C11,1.2 6,4.6 0,4.6 C-6,4.6 -11,1.2 -20,0 Z" fill="url(#sp)" stroke="#f0b4b8" stroke-width="0.35"/></g>
<g transform="translate(583.6,259.5) rotate(468)" opacity="0.85"><path d="M-16.5,0 C-9.1,-1 -4.9,-3.8 0,-3.8 C4.9,-3.8 9.1,-1 16.5,0 C9.1,1 4.9,3.8 0,3.8 C-4.9,3.8 -9.1,1 -16.5,0 Z" fill="url(#sp)" stroke="#f0b4b8" stroke-width="0.35"/></g>
<g transform="translate(353.6,180.7) rotate(297.1)" opacity="0.85"><path d="M-20.8,0 C-11.5,-1.2 -6.2,-4.8 0,-4.8 C6.2,-4.8 11.5,-1.2 20.8,0 C11.5,1.2 6.2,4.8 0,4.8 C-6.2,4.8 -11.5,1.2 -20.8,0 Z" fill="url(#sp)" stroke="#f0b4b8" stroke-width="0.35"/></g>
<g transform="translate(333.5,214.5) rotate(273.3)" opacity="0.85"><path d="M-20.1,0 C-11.1,-1.1 -6,-4.5 0,-4.5 C6,-4.5 11.1,-1.1 20.1,0 C11.1,1.1 6,4.5 0,4.5 C-6,4.5 -11.1,1.1 -20.1,0 Z" fill="url(#sp)" stroke="#f0b4b8" stroke-width="0.35"/></g>
<g transform="translate(587.6,229.7) rotate(421.2)" opacity="0.85"><path d="M-18.2,0 C-10,-1.2 -5.5,-4.8 0,-4.8 C5.5,-4.8 10,-1.2 18.2,0 C10,1.2 5.5,4.8 0,4.8 C-5.5,4.8 -10,1.2 -18.2,0 Z" fill="url(#sp)" stroke="#f0b4b8" stroke-width="0.35"/></g>
<g transform="translate(396.1,368.5) rotate(230.9)" opacity="0.85"><path d="M-19.9,0 C-10.9,-1 -6,-3.9 0,-3.9 C6,-3.9 10.9,-1 19.9,0 C10.9,1 6,3.9 0,3.9 C-6,3.9 -10.9,1 -19.9,0 Z" fill="url(#sp)" stroke="#f0b4b8" stroke-width="0.35"/></g>
<g transform="translate(359.3,316.3) rotate(224.6)" opacity="0.85"><path d="M-17,0 C-9.3,-1.1 -5.1,-4.4 0,-4.4 C5.1,-4.4 9.3,-1.1 17,0 C9.3,1.1 5.1,4.4 0,4.4 C-5.1,4.4 -9.3,1.1 -17,0 Z" fill="url(#sp)" stroke="#f0b4b8" stroke-width="0.35"/></g>
<g transform="translate(493.5,377.7) rotate(175.2)" opacity="0.85"><path d="M-16.1,0 C-8.9,-1 -4.8,-4.2 0,-4.2 C4.8,-4.2 8.9,-1 16.1,0 C8.9,1 4.8,4.2 0,4.2 C-4.8,4.2 -8.9,1 -16.1,0 Z" fill="url(#sp)" stroke="#f0b4b8" stroke-width="0.35"/></g>
<g transform="translate(591.3,269.6) rotate(104.1)" opacity="0.85"><path d="M-17.6,0 C-9.7,-1 -5.3,-3.9 0,-3.9 C5.3,-3.9 9.7,-1 17.6,0 C9.7,1 5.3,3.9 0,3.9 C-5.3,3.9 -9.7,1 -17.6,0 Z" fill="url(#sp)" stroke="#f0b4b8" stroke-width="0.35"/></g>
<g transform="translate(339.2,258.9) rotate(259.8)" opacity="0.85"><path d="M-18.9,0 C-10.4,-1.1 -5.7,-4.3 0,-4.3 C5.7,-4.3 10.4,-1.1 18.9,0 C10.4,1.1 5.7,4.3 0,4.3 C-5.7,4.3 -10.4,1.1 -18.9,0 Z" fill="url(#sp)" stroke="#f0b4b8" stroke-width="0.35"/></g>
<g transform="translate(468.9,367.8) rotate(153.7)" opacity="0.85"><path d="M-16.5,0 C-9.1,-1.1 -4.9,-4.5 0,-4.5 C4.9,-4.5 9.1,-1.1 16.5,0 C9.1,1.1 4.9,4.5 0,4.5 C-4.9,4.5 -9.1,1.1 -16.5,0 Z" fill="url(#sp)" stroke="#f0b4b8" stroke-width="0.35"/></g>
<g transform="translate(559.5,284) rotate(89.2)" opacity="0.85"><path d="M-17.5,0 C-9.6,-1 -5.3,-4.1 0,-4.1 C5.3,-4.1 9.6,-1 17.5,0 C9.6,1 5.3,4.1 0,4.1 C-5.3,4.1 -9.6,1 -17.5,0 Z" fill="url(#sp)" stroke="#f0b4b8" stroke-width="0.35"/></g>
<g transform="translate(355.5,354.2) rotate(244.6)" opacity="0.85"><path d="M-20.2,0 C-11.1,-1.2 -6.1,-5 0,-5 C6.1,-5 11.1,-1.2 20.2,0 C11.1,1.2 6.1,5 0,5 C-6.1,5 -11.1,1.2 -20.2,0 Z" fill="url(#sp)" stroke="#f0b4b8" stroke-width="0.35"/></g>
<g transform="translate(559.6,339.1) rotate(112.4)" opacity="0.85"><path d="M-16,0 C-8.8,-1.1 -4.8,-4.4 0,-4.4 C4.8,-4.4 8.8,-1.1 16,0 C8.8,1.1 4.8,4.4 0,4.4 C-4.8,4.4 -8.8,1.1 -16,0 Z" fill="url(#sp)" stroke="#f0b4b8" stroke-width="0.35"/></g>
<g transform="translate(383.5,182.9) rotate(294.6)" opacity="0.85"><path d="M-16.3,0 C-9,-1.2 -4.9,-4.9 0,-4.9 C4.9,-4.9 9,-1.2 16.3,0 C9,1.2 4.9,4.9 0,4.9 C-4.9,4.9 -9,1.2 -16.3,0 Z" fill="url(#sp)" stroke="#f0b4b8" stroke-width="0.35"/></g>
<g transform="translate(329.6,301.4) rotate(235.2)" opacity="0.85"><path d="M-20.5,0 C-11.3,-1 -6.1,-3.9 0,-3.9 C6.1,-3.9 11.3,-1 20.5,0 C11.3,1 6.1,3.9 0,3.9 C-6.1,3.9 -11.3,1 -20.5,0 Z" fill="url(#sp)" stroke="#f0b4b8" stroke-width="0.35"/></g>
<g transform="translate(582.8,277.7) rotate(109.9)" opacity="0.85"><path d="M-19.4,0 C-10.7,-1.2 -5.8,-5 0,-5 C5.8,-5 10.7,-1.2 19.4,0 C10.7,1.2 5.8,5 0,5 C-5.8,5 -10.7,1.2 -19.4,0 Z" fill="url(#sp)" stroke="#f0b4b8" stroke-width="0.35"/></g>
<g transform="translate(355.1,204.1) rotate(314.7)" opacity="0.85"><path d="M-19,0 C-10.5,-1.2 -5.7,-4.6 0,-4.6 C5.7,-4.6 10.5,-1.2 19,0 C10.5,1.2 5.7,4.6 0,4.6 C-5.7,4.6 -10.5,1.2 -19,0 Z" fill="url(#sp)" stroke="#f0b4b8" stroke-width="0.35"/></g>
<g transform="translate(410.7,382.7) rotate(191.6)" opacity="0.85"><path d="M-15.8,0 C-8.7,-1.1 -4.7,-4.5 0,-4.5 C4.7,-4.5 8.7,-1.1 15.8,0 C8.7,1.1 4.7,4.5 0,4.5 C-4.7,4.5 -8.7,1.1 -15.8,0 Z" fill="url(#sp)" stroke="#f0b4b8" stroke-width="0.35"/></g>
<g transform="translate(371.6,205.9) rotate(328.1)" opacity="0.85"><path d="M-19.1,0 C-10.5,-1.1 -5.7,-4.4 0,-4.4 C5.7,-4.4 10.5,-1.1 19.1,0 C10.5,1.1 5.7,4.4 0,4.4 C-5.7,4.4 -10.5,1.1 -19.1,0 Z" fill="url(#sp)" stroke="#f0b4b8" stroke-width="0.35"/></g>
<g transform="translate(340.3,279.2) rotate(242.8)" opacity="0.85"><path d="M-17.8,0 C-9.8,-1.2 -5.4,-4.8 0,-4.8 C5.4,-4.8 9.8,-1.2 17.8,0 C9.8,1.2 5.4,4.8 0,4.8 C-5.4,4.8 -9.8,1.2 -17.8,0 Z" fill="url(#sp)" stroke="#f0b4b8" stroke-width="0.35"/></g>
<g transform="translate(440.9,132.6) rotate(364.3)" opacity="0.85"><path d="M-17.7,0 C-9.7,-1.1 -5.3,-4.4 0,-4.4 C5.3,-4.4 9.7,-1.1 17.7,0 C9.7,1.1 5.3,4.4 0,4.4 C-5.3,4.4 -9.7,1.1 -17.7,0 Z" fill="url(#sp)" stroke="#f0b4b8" stroke-width="0.35"/></g>
<g transform="translate(345.9,338.1) rotate(249.6)" opacity="0.85"><path d="M-15,0 C-8.3,-1.2 -4.5,-4.9 0,-4.9 C4.5,-4.9 8.3,-1.2 15,0 C8.3,1.2 4.5,4.9 0,4.9 C-4.5,4.9 -8.3,1.2 -15,0 Z" fill="url(#sp)" stroke="#f0b4b8" stroke-width="0.35"/></g>
<g transform="translate(348.8,332.4) rotate(221.6)" opacity="0.85"><path d="M-16.4,0 C-9,-1 -4.9,-4.1 0,-4.1 C4.9,-4.1 9,-1 16.4,0 C9,1 4.9,4.1 0,4.1 C-4.9,4.1 -9,1 -16.4,0 Z" fill="url(#sp)" stroke="#f0b4b8" stroke-width="0.35"/></g>
<g transform="translate(342.5,197.7) rotate(313)" opacity="0.85"><path d="M-16.3,0 C-9,-1.1 -4.9,-4.2 0,-4.2 C4.9,-4.2 9,-1.1 16.3,0 C9,1.1 4.9,4.2 0,4.2 C-4.9,4.2 -9,1.1 -16.3,0 Z" fill="url(#sp)" stroke="#f0b4b8" stroke-width="0.35"/></g>
<g transform="translate(562.6,233.1) rotate(410)" opacity="0.85"><path d="M-18.8,0 C-10.3,-1.1 -5.6,-4.4 0,-4.4 C5.6,-4.4 10.3,-1.1 18.8,0 C10.3,1.1 5.6,4.4 0,4.4 C-5.6,4.4 -10.3,1.1 -18.8,0 Z" fill="url(#sp)" stroke="#f0b4b8" stroke-width="0.35"/></g>
<g transform="translate(543.2,324.1) rotate(100.8)" opacity="0.85"><path d="M-15.3,0 C-8.4,-1.2 -4.6,-4.8 0,-4.8 C4.6,-4.8 8.4,-1.2 15.3,0 C8.4,1.2 4.6,4.8 0,4.8 C-4.6,4.8 -8.4,1.2 -15.3,0 Z" fill="url(#sp)" stroke="#f0b4b8" stroke-width="0.35"/></g>
<g transform="translate(581.5,313) rotate(127.5)" opacity="0.85"><path d="M-20.3,0 C-11.2,-1 -6.1,-4 0,-4 C6.1,-4 11.2,-1 20.3,0 C11.2,1 6.1,4 0,4 C-6.1,4 -11.2,1 -20.3,0 Z" fill="url(#sp)" stroke="#f0b4b8" stroke-width="0.35"/></g>
<g transform="translate(418.9,369.1) rotate(217.3)" opacity="0.85"><path d="M-19.6,0 C-10.8,-1 -5.9,-4.2 0,-4.2 C5.9,-4.2 10.8,-1 19.6,0 C10.8,1 5.9,4.2 0,4.2 C-5.9,4.2 -10.8,1 -19.6,0 Z" fill="url(#sp)" stroke="#f0b4b8" stroke-width="0.35"/></g>
<g transform="translate(343.1,209.7) rotate(279.1)" opacity="0.85"><path d="M-20.5,0 C-11.3,-1 -6.1,-3.8 0,-3.8 C6.1,-3.8 11.3,-1 20.5,0 C11.3,1 6.1,3.8 0,3.8 C-6.1,3.8 -11.3,1 -20.5,0 Z" fill="url(#sp)" stroke="#f0b4b8" stroke-width="0.35"/></g>
<g transform="translate(334,320.2) rotate(264)" opacity="0.85"><path d="M-17.2,0 C-9.5,-1.2 -5.2,-4.7 0,-4.7 C5.2,-4.7 9.5,-1.2 17.2,0 C9.5,1.2 5.2,4.7 0,4.7 C-5.2,4.7 -9.5,1.2 -17.2,0 Z" fill="url(#sp)" stroke="#f0b4b8" stroke-width="0.35"/></g>
<g transform="translate(398,170.8) rotate(315.7)" opacity="0.85"><path d="M-17.6,0 C-9.7,-1.1 -5.3,-4.4 0,-4.4 C5.3,-4.4 9.7,-1.1 17.6,0 C9.7,1.1 5.3,4.4 0,4.4 C-5.3,4.4 -9.7,1.1 -17.6,0 Z" fill="url(#sp)" stroke="#f0b4b8" stroke-width="0.35"/></g>
<g transform="translate(534.5,346.2) rotate(157.3)" opacity="0.85"><path d="M-19.5,0 C-10.7,-1.1 -5.9,-4.3 0,-4.3 C5.9,-4.3 10.7,-1.1 19.5,0 C10.7,1.1 5.9,4.3 0,4.3 C-5.9,4.3 -10.7,1.1 -19.5,0 Z" fill="url(#sp)" stroke="#f0b4b8" stroke-width="0.35"/></g>
<g transform="translate(529.4,377.1) rotate(128)" opacity="0.85"><path d="M-20.9,0 C-11.5,-1 -6.3,-3.9 0,-3.9 C6.3,-3.9 11.5,-1 20.9,0 C11.5,1 6.3,3.9 0,3.9 C-6.3,3.9 -11.5,1 -20.9,0 Z" fill="url(#sp)" stroke="#f0b4b8" stroke-width="0.35"/></g>
<g transform="translate(532,367.3) rotate(157.5)" opacity="0.85"><path d="M-19.5,0 C-10.7,-1.1 -5.9,-4.4 0,-4.4 C5.9,-4.4 10.7,-1.1 19.5,0 C10.7,1.1 5.9,4.4 0,4.4 C-5.9,4.4 -10.7,1.1 -19.5,0 Z" fill="url(#sp)" stroke="#f0b4b8" stroke-width="0.35"/></g>
<g transform="translate(499,160.4) rotate(393.8)" opacity="0.85"><path d="M-20.5,0 C-11.3,-1.1 -6.2,-4.5 0,-4.5 C6.2,-4.5 11.3,-1.1 20.5,0 C11.3,1.1 6.2,4.5 0,4.5 C-6.2,4.5 -11.3,1.1 -20.5,0 Z" fill="url(#sp)" stroke="#f0b4b8" stroke-width="0.35"/></g>
<g transform="translate(581.5,239.8) rotate(460.5)" opacity="0.85"><path d="M-17.8,0 C-9.8,-1.2 -5.3,-4.7 0,-4.7 C5.3,-4.7 9.8,-1.2 17.8,0 C9.8,1.2 5.3,4.7 0,4.7 C-5.3,4.7 -9.8,1.2 -17.8,0 Z" fill="url(#sp)" stroke="#f0b4b8" stroke-width="0.35"/></g>
<g transform="translate(463.8,146.4) rotate(351)" opacity="0.85"><path d="M-20.7,0 C-11.4,-1.2 -6.2,-4.6 0,-4.6 C6.2,-4.6 11.4,-1.2 20.7,0 C11.4,1.2 6.2,4.6 0,4.6 C-6.2,4.6 -11.4,1.2 -20.7,0 Z" fill="url(#sp)" stroke="#f0b4b8" stroke-width="0.35"/></g>
<g transform="translate(554.1,182.5) rotate(399.2)" opacity="0.85"><path d="M-16.4,0 C-9,-1.1 -4.9,-4.3 0,-4.3 C4.9,-4.3 9,-1.1 16.4,0 C9,1.1 4.9,4.3 0,4.3 C-4.9,4.3 -9,1.1 -16.4,0 Z" fill="url(#sp)" stroke="#f0b4b8" stroke-width="0.35"/></g>
<g transform="translate(540.9,202.8) rotate(393.5)" opacity="0.85"><path d="M-16.6,0 C-9.1,-1.1 -5,-4.2 0,-4.2 C5,-4.2 9.1,-1.1 16.6,0 C9.1,1.1 5,4.2 0,4.2 C-5,4.2 -9.1,1.1 -16.6,0 Z" fill="url(#sp)" stroke="#f0b4b8" stroke-width="0.35"/></g>
<g transform="translate(377.5,353.5) rotate(200.5)" opacity="0.85"><path d="M-18.5,0 C-10.2,-1.2 -5.6,-4.9 0,-4.9 C5.6,-4.9 10.2,-1.2 18.5,0 C10.2,1.2 5.6,4.9 0,4.9 C-5.6,4.9 -10.2,1.2 -18.5,0 Z" fill="url(#sp)" stroke="#f0b4b8" stroke-width="0.35"/></g>
<g transform="translate(438.2,146.7) rotate(373.3)" opacity="0.85"><path d="M-19.2,0 C-10.6,-1 -5.8,-4 0,-4 C5.8,-4 10.6,-1 19.2,0 C10.6,1 5.8,4 0,4 C-5.8,4 -10.6,1 -19.2,0 Z" fill="url(#sp)" stroke="#f0b4b8" stroke-width="0.35"/></g>
<g transform="translate(511.9,388.6) rotate(178.9)" opacity="0.85"><path d="M-15.2,0 C-8.4,-1 -4.6,-4.1 0,-4.1 C4.6,-4.1 8.4,-1 15.2,0 C8.4,1 4.6,4.1 0,4.1 C-4.6,4.1 -8.4,1 -15.2,0 Z" fill="url(#sp)" stroke="#f0b4b8" stroke-width="0.35"/></g>
<g transform="translate(383.7,151.9) rotate(346.1)" opacity="0.85"><path d="M-16.8,0 C-9.3,-1 -5.1,-4.1 0,-4.1 C5.1,-4.1 9.3,-1 16.8,0 C9.3,1 5.1,4.1 0,4.1 C-5.1,4.1 -9.3,1 -16.8,0 Z" fill="url(#sp)" stroke="#f0b4b8" stroke-width="0.35"/></g>
<g transform="translate(363.6,310.3) rotate(225.7)" opacity="0.85"><path d="M-18,0 C-9.9,-1 -5.4,-4 0,-4 C5.4,-4 9.9,-1 18,0 C9.9,1 5.4,4 0,4 C-5.4,4 -9.9,1 -18,0 Z" fill="url(#sp)" stroke="#f0b4b8" stroke-width="0.35"/></g>
<g transform="translate(511.5,354.1) rotate(133.4)" opacity="0.85"><path d="M-18.3,0 C-10.1,-1 -5.5,-3.8 0,-3.8 C5.5,-3.8 10.1,-1 18.3,0 C10.1,1 5.5,3.8 0,3.8 C-5.5,3.8 -10.1,1 -18.3,0 Z" fill="url(#sp)" stroke="#f0b4b8" stroke-width="0.35"/></g>
<g transform="translate(387.1,340.2) rotate(199.8)" opacity="0.85"><path d="M-17.8,0 C-9.8,-1.1 -5.4,-4.6 0,-4.6 C5.4,-4.6 9.8,-1.1 17.8,0 C9.8,1.1 5.4,4.6 0,4.6 C-5.4,4.6 -9.8,1.1 -17.8,0 Z" fill="url(#sp)" stroke="#f0b4b8" stroke-width="0.35"/></g>
<g transform="translate(579,210.2) rotate(437.3)" opacity="0.85"><path d="M-18.2,0 C-10,-1.1 -5.5,-4.5 0,-4.5 C5.5,-4.5 10,-1.1 18.2,0 C10,1.1 5.5,4.5 0,4.5 C-5.5,4.5 -10,1.1 -18.2,0 Z" fill="url(#sp)" stroke="#f0b4b8" stroke-width="0.35"/></g>
<g transform="translate(402.7,152.6) rotate(355.9)" opacity="0.85"><path d="M-20.9,0 C-11.5,-1.1 -6.3,-4.3 0,-4.3 C6.3,-4.3 11.5,-1.1 20.9,0 C11.5,1.1 6.3,4.3 0,4.3 C-6.3,4.3 -11.5,1.1 -20.9,0 Z" fill="url(#sp)" stroke="#f0b4b8" stroke-width="0.35"/></g>
<g transform="translate(547.4,333.2) rotate(110.3)" opacity="0.85"><path d="M-18.9,0 C-10.4,-1.2 -5.7,-4.7 0,-4.7 C5.7,-4.7 10.4,-1.2 18.9,0 C10.4,1.2 5.7,4.7 0,4.7 C-5.7,4.7 -10.4,1.2 -18.9,0 Z" fill="url(#sp)" stroke="#f0b4b8" stroke-width="0.35"/></g>
<g transform="translate(543.6,162.4) rotate(412.3)" opacity="0.85"><path d="M-20.4,0 C-11.2,-1 -6.1,-4.1 0,-4.1 C6.1,-4.1 11.2,-1 20.4,0 C11.2,1 6.1,4.1 0,4.1 C-6.1,4.1 -11.2,1 -20.4,0 Z" fill="url(#sp)" stroke="#f0b4b8" stroke-width="0.35"/></g>
<g transform="translate(499.1,153) rotate(392.2)" opacity="0.85"><path d="M-20.6,0 C-11.3,-1.2 -6.2,-4.6 0,-4.6 C6.2,-4.6 11.3,-1.2 20.6,0 C11.3,1.2 6.2,4.6 0,4.6 C-6.2,4.6 -11.3,1.2 -20.6,0 Z" fill="url(#sp)" stroke="#f0b4b8" stroke-width="0.35"/></g>
<g transform="translate(523,155.8) rotate(406.1)" opacity="0.85"><path d="M-17,0 C-9.4,-1.2 -5.1,-4.9 0,-4.9 C5.1,-4.9 9.4,-1.2 17,0 C9.4,1.2 5.1,4.9 0,4.9 C-5.1,4.9 -9.4,1.2 -17,0 Z" fill="url(#sp)" stroke="#f0b4b8" stroke-width="0.35"/></g>
<g transform="translate(513.1,378.2) rotate(142.4)" opacity="0.85"><path d="M-20.4,0 C-11.2,-1.1 -6.1,-4.2 0,-4.2 C6.1,-4.2 11.2,-1.1 20.4,0 C11.2,1.1 6.1,4.2 0,4.2 C-6.1,4.2 -11.2,1.1 -20.4,0 Z" fill="url(#sp)" stroke="#f0b4b8" stroke-width="0.35"/></g>
<g transform="translate(434.4,389.7) rotate(167.2)" opacity="0.85"><path d="M-19.3,0 C-10.6,-1.1 -5.8,-4.6 0,-4.6 C5.8,-4.6 10.6,-1.1 19.3,0 C10.6,1.1 5.8,4.6 0,4.6 C-5.8,4.6 -10.6,1.1 -19.3,0 Z" fill="url(#sp)" stroke="#f0b4b8" stroke-width="0.35"/></g>
<g transform="translate(557.5,178) rotate(421.9)" opacity="0.85"><path d="M-16.6,0 C-9.1,-1.1 -5,-4.4 0,-4.4 C5,-4.4 9.1,-1.1 16.6,0 C9.1,1.1 5,4.4 0,4.4 C-5,4.4 -9.1,1.1 -16.6,0 Z" fill="url(#sp)" stroke="#f0b4b8" stroke-width="0.35"/></g>
<g transform="translate(434.7,383.5) rotate(171.5)" opacity="0.85"><path d="M-19.3,0 C-10.6,-1.2 -5.8,-4.8 0,-4.8 C5.8,-4.8 10.6,-1.2 19.3,0 C10.6,1.2 5.8,4.8 0,4.8 C-5.8,4.8 -10.6,1.2 -19.3,0 Z" fill="url(#sp)" stroke="#f0b4b8" stroke-width="0.35"/></g>
<g transform="translate(454.5,375.6) rotate(171.1)" opacity="0.85"><path d="M-19.8,0 C-10.9,-1.2 -5.9,-4.7 0,-4.7 C5.9,-4.7 10.9,-1.2 19.8,0 C10.9,1.2 5.9,4.7 0,4.7 C-5.9,4.7 -10.9,1.2 -19.8,0 Z" fill="url(#sp)" stroke="#f0b4b8" stroke-width="0.35"/></g>
<g transform="translate(475,154.3) rotate(389.7)" opacity="0.85"><path d="M-19.9,0 C-11,-1.2 -6,-4.8 0,-4.8 C6,-4.8 11,-1.2 19.9,0 C11,1.2 6,4.8 0,4.8 C-6,4.8 -11,1.2 -19.9,0 Z" fill="url(#sp)" stroke="#f0b4b8" stroke-width="0.35"/></g>
<g transform="translate(446,369.7) rotate(200.1)" opacity="0.85"><path d="M-20.9,0 C-11.5,-1 -6.3,-3.9 0,-3.9 C6.3,-3.9 11.5,-1 20.9,0 C11.5,1 6.3,3.9 0,3.9 C-6.3,3.9 -11.5,1 -20.9,0 Z" fill="url(#sp)" stroke="#f0b4b8" stroke-width="0.35"/></g>
<g transform="translate(560.1,264.1) rotate(78.4)" opacity="0.85"><path d="M-18.2,0 C-10,-1.1 -5.5,-4.2 0,-4.2 C5.5,-4.2 10,-1.1 18.2,0 C10,1.1 5.5,4.2 0,4.2 C-5.5,4.2 -10,1.1 -18.2,0 Z" fill="url(#sp)" stroke="#f0b4b8" stroke-width="0.35"/></g>
<g transform="translate(343.7,300.9) rotate(236.1)" opacity="0.85"><path d="M-15.4,0 C-8.5,-1.2 -4.6,-4.9 0,-4.9 C4.6,-4.9 8.5,-1.2 15.4,0 C8.5,1.2 4.6,4.9 0,4.9 C-4.6,4.9 -8.5,1.2 -15.4,0 Z" fill="url(#sp)" stroke="#f0b4b8" stroke-width="0.35"/></g>
<g transform="translate(427.3,397.1) rotate(171.3)" opacity="0.85"><path d="M-17.5,0 C-9.6,-1.1 -5.2,-4.2 0,-4.2 C5.2,-4.2 9.6,-1.1 17.5,0 C9.6,1.1 5.2,4.2 0,4.2 C-5.2,4.2 -9.6,1.1 -17.5,0 Z" fill="url(#sp)" stroke="#f0b4b8" stroke-width="0.35"/></g>
<g transform="translate(365.6,165.8) rotate(298)" opacity="0.85"><path d="M-16.9,0 C-9.3,-1.1 -5.1,-4.2 0,-4.2 C5.1,-4.2 9.3,-1.1 16.9,0 C9.3,1.1 5.1,4.2 0,4.2 C-5.1,4.2 -9.3,1.1 -16.9,0 Z" fill="url(#sp)" stroke="#f0b4b8" stroke-width="0.35"/></g>
<g transform="translate(351.1,318.4) rotate(261.2)" opacity="0.85"><path d="M-18.8,0 C-10.3,-1.1 -5.6,-4.5 0,-4.5 C5.6,-4.5 10.3,-1.1 18.8,0 C10.3,1.1 5.6,4.5 0,4.5 C-5.6,4.5 -10.3,1.1 -18.8,0 Z" fill="url(#sp)" stroke="#f0b4b8" stroke-width="0.35"/></g>
<g transform="translate(574.7,266.5) rotate(73.4)" opacity="0.85"><path d="M-16.5,0 C-9.1,-1.1 -4.9,-4.3 0,-4.3 C4.9,-4.3 9.1,-1.1 16.5,0 C9.1,1.1 4.9,4.3 0,4.3 C-4.9,4.3 -9.1,1.1 -16.5,0 Z" fill="url(#sp)" stroke="#f0b4b8" stroke-width="0.35"/></g>
<g transform="translate(536.4,165.6) rotate(421.4)" opacity="0.85"><path d="M-16.8,0 C-9.2,-1.2 -5,-4.7 0,-4.7 C5,-4.7 9.2,-1.2 16.8,0 C9.2,1.2 5,4.7 0,4.7 C-5,4.7 -9.2,1.2 -16.8,0 Z" fill="url(#sp)" stroke="#f0b4b8" stroke-width="0.35"/></g>
<g transform="translate(413.5,375.3) rotate(213.8)" opacity="0.85"><path d="M-19.3,0 C-10.6,-1.1 -5.8,-4.6 0,-4.6 C5.8,-4.6 10.6,-1.1 19.3,0 C10.6,1.1 5.8,4.6 0,4.6 C-5.8,4.6 -10.6,1.1 -19.3,0 Z" fill="url(#sp)" stroke="#f0b4b8" stroke-width="0.35"/></g>
<g transform="translate(374.3,329) rotate(246.4)" opacity="0.85"><path d="M-17.3,0 C-9.5,-1.1 -5.2,-4.6 0,-4.6 C5.2,-4.6 9.5,-1.1 17.3,0 C9.5,1.1 5.2,4.6 0,4.6 C-5.2,4.6 -9.5,1.1 -17.3,0 Z" fill="url(#sp)" stroke="#f0b4b8" stroke-width="0.35"/></g>
<g transform="translate(324.2,278.1) rotate(252.4)" opacity="0.85"><path d="M-16.7,0 C-9.2,-1.1 -5,-4.4 0,-4.4 C5,-4.4 9.2,-1.1 16.7,0 C9.2,1.1 5,4.4 0,4.4 C-5,4.4 -9.2,1.1 -16.7,0 Z" fill="url(#sp)" stroke="#f0b4b8" stroke-width="0.35"/></g>
<g transform="translate(349,295.6) rotate(231.9)" opacity="0.85"><path d="M-15.3,0 C-8.4,-1 -4.6,-4 0,-4 C4.6,-4 8.4,-1 15.3,0 C8.4,1 4.6,4 0,4 C-4.6,4 -8.4,1 -15.3,0 Z" fill="url(#sp)" stroke="#f0b4b8" stroke-width="0.35"/></g>
<g transform="translate(516.3,172.1) rotate(371.2)" opacity="0.85"><path d="M-16.1,0 C-8.9,-1.2 -4.8,-4.9 0,-4.9 C4.8,-4.9 8.9,-1.2 16.1,0 C8.9,1.2 4.8,4.9 0,4.9 C-4.8,4.9 -8.9,1.2 -16.1,0 Z" fill="url(#sp)" stroke="#f0b4b8" stroke-width="0.35"/></g>
<g transform="translate(375.8,360.4) rotate(237.9)" opacity="0.85"><path d="M-18.5,0 C-10.2,-1.1 -5.5,-4.2 0,-4.2 C5.5,-4.2 10.2,-1.1 18.5,0 C10.2,1.1 5.5,4.2 0,4.2 C-5.5,4.2 -10.2,1.1 -18.5,0 Z" fill="url(#sp)" stroke="#f0b4b8" stroke-width="0.35"/></g>
<g transform="translate(406.1,174.4) rotate(346.2)" opacity="0.85"><path d="M-15.6,0 C-8.6,-1.1 -4.7,-4.5 0,-4.5 C4.7,-4.5 8.6,-1.1 15.6,0 C8.6,1.1 4.7,4.5 0,4.5 C-4.7,4.5 -8.6,1.1 -15.6,0 Z" fill="url(#sp)" stroke="#f0b4b8" stroke-width="0.35"/></g>
<ellipse cx="559.8" cy="270.3" rx="3.5" ry="2.3" fill="#bebee2" opacity="0.95" transform="rotate(77.1 559.8 270.3)"/>
<ellipse cx="560" cy="284.3" rx="3.5" ry="2.6" fill="#bebee2" opacity="0.95" transform="rotate(110.9 560 284.3)"/>
<ellipse cx="555.8" cy="301.7" rx="3.5" ry="2.7" fill="#bebee2" opacity="0.95" transform="rotate(127.5 555.8 301.7)"/>
<ellipse cx="545.2" cy="315.8" rx="3.6" ry="2.3" fill="#bebee2" opacity="0.95" transform="rotate(107 545.2 315.8)"/>
<ellipse cx="539" cy="329.8" rx="3.9" ry="2.4" fill="#bebee2" opacity="0.95" transform="rotate(142.6 539 329.8)"/>
<ellipse cx="532.5" cy="338.1" rx="3.7" ry="2.5" fill="#bebee2" opacity="0.95" transform="rotate(121.1 532.5 338.1)"/>
<ellipse cx="504.8" cy="358.4" rx="3.7" ry="2.8" fill="#bebee2" opacity="0.95" transform="rotate(147.1 504.8 358.4)"/>
<ellipse cx="485.1" cy="365.5" rx="3.8" ry="2.5" fill="#bebee2" opacity="0.95" transform="rotate(143.8 485.1 365.5)"/>
<ellipse cx="473.2" cy="368.5" rx="3.7" ry="2.7" fill="#bebee2" opacity="0.95" transform="rotate(172.9 473.2 368.5)"/>
<ellipse cx="453" cy="366.9" rx="3.6" ry="2.7" fill="#bebee2" opacity="0.95" transform="rotate(160.4 453 366.9)"/>
<ellipse cx="443.4" cy="367.7" rx="4.1" ry="2.4" fill="#bebee2" opacity="0.95" transform="rotate(187.3 443.4 367.7)"/>
<ellipse cx="424.3" cy="365.2" rx="4.2" ry="2.4" fill="#bebee2" opacity="0.95" transform="rotate(187.7 424.3 365.2)"/>
<ellipse cx="407.3" cy="355.9" rx="3.9" ry="2.3" fill="#bebee2" opacity="0.95" transform="rotate(191.6 407.3 355.9)"/>
<ellipse cx="392.9" cy="348.2" rx="3.7" ry="2.5" fill="#bebee2" opacity="0.95" transform="rotate(223.4 392.9 348.2)"/>
<ellipse cx="382.3" cy="333.5" rx="3.5" ry="2.4" fill="#bebee2" opacity="0.95" transform="rotate(244.7 382.3 333.5)"/>
<ellipse cx="370.7" cy="322" rx="4.1" ry="2.4" fill="#bebee2" opacity="0.95" transform="rotate(231.4 370.7 322)"/>
<ellipse cx="363" cy="311.1" rx="4" ry="2.5" fill="#bebee2" opacity="0.95" transform="rotate(255.2 363 311.1)"/>
<ellipse cx="357.4" cy="298.9" rx="4" ry="2.4" fill="#bebee2" opacity="0.95" transform="rotate(258.5 357.4 298.9)"/>
<ellipse cx="354" cy="277.6" rx="3.8" ry="2.7" fill="#bebee2" opacity="0.95" transform="rotate(246.7 354 277.6)"/>
<ellipse cx="354.7" cy="266.1" rx="4.1" ry="2.4" fill="#bebee2" opacity="0.95" transform="rotate(278.5 354.7 266.1)"/>
<ellipse cx="355.8" cy="249.6" rx="3.6" ry="2.5" fill="#bebee2" opacity="0.95" transform="rotate(279.7 355.8 249.6)"/>
<ellipse cx="359.5" cy="227.6" rx="4.2" ry="2.4" fill="#bebee2" opacity="0.95" transform="rotate(273.5 359.5 227.6)"/>
<ellipse cx="366.3" cy="212.6" rx="3.8" ry="2.4" fill="#bebee2" opacity="0.95" transform="rotate(310.3 366.3 212.6)"/>
<ellipse cx="373.8" cy="206.5" rx="3.5" ry="2.5" fill="#bebee2" opacity="0.95" transform="rotate(300.2 373.8 206.5)"/>
<ellipse cx="386.3" cy="189.8" rx="3.8" ry="2.4" fill="#bebee2" opacity="0.95" transform="rotate(322.6 386.3 189.8)"/>
<ellipse cx="396.3" cy="179.9" rx="3.8" ry="2.6" fill="#bebee2" opacity="0.95" transform="rotate(342.4 396.3 179.9)"/>
<ellipse cx="411.7" cy="173.8" rx="4.1" ry="2.7" fill="#bebee2" opacity="0.95" transform="rotate(343.3 411.7 173.8)"/>
<ellipse cx="429.3" cy="164.6" rx="3.8" ry="2.5" fill="#bebee2" opacity="0.95" transform="rotate(350.7 429.3 164.6)"/>
<ellipse cx="439.5" cy="163.7" rx="4" ry="2.6" fill="#bebee2" opacity="0.95" transform="rotate(362.5 439.5 163.7)"/>
<ellipse cx="458.2" cy="161.9" rx="3.8" ry="2.6" fill="#bebee2" opacity="0.95" transform="rotate(365.9 458.2 161.9)"/>
<ellipse cx="472.6" cy="162" rx="3.8" ry="2.5" fill="#bebee2" opacity="0.95" transform="rotate(380.7 472.6 162)"/>
<ellipse cx="487.2" cy="165.9" rx="4" ry="2.8" fill="#bebee2" opacity="0.95" transform="rotate(361.9 487.2 165.9)"/>
<ellipse cx="502.9" cy="171.9" rx="4" ry="2.6" fill="#bebee2" opacity="0.95" transform="rotate(387.9 502.9 171.9)"/>
<ellipse cx="521.5" cy="184" rx="4.2" ry="2.4" fill="#bebee2" opacity="0.95" transform="rotate(394.4 521.5 184)"/>
<ellipse cx="531.9" cy="191.6" rx="4.2" ry="2.5" fill="#bebee2" opacity="0.95" transform="rotate(388.8 531.9 191.6)"/>
<ellipse cx="547.5" cy="220.1" rx="3.8" ry="2.6" fill="#bebee2" opacity="0.95" transform="rotate(419.9 547.5 220.1)"/>
<ellipse cx="554.2" cy="233.4" rx="4.2" ry="2.6" fill="#bebee2" opacity="0.95" transform="rotate(442.5 554.2 233.4)"/>
<ellipse cx="559.4" cy="253.1" rx="3.6" ry="2.7" fill="#bebee2" opacity="0.95" transform="rotate(430.6 559.4 253.1)"/>
<ellipse cx="570.1" cy="275.2" rx="3.7" ry="2.8" fill="#bebee2" opacity="0.95" transform="rotate(97.8 570.1 275.2)"/>
<ellipse cx="569.3" cy="291.6" rx="3.8" ry="2.4" fill="#bebee2" opacity="0.95" transform="rotate(117.2 569.3 291.6)"/>
<ellipse cx="565.9" cy="303.3" rx="4.1" ry="2.4" fill="#bebee2" opacity="0.95" transform="rotate(102.9 565.9 303.3)"/>
<ellipse cx="557" cy="318.4" rx="3.5" ry="2.7" fill="#bebee2" opacity="0.95" transform="rotate(104.2 557 318.4)"/>
<ellipse cx="548" cy="331.6" rx="3.8" ry="2.6" fill="#bebee2" opacity="0.95" transform="rotate(125.3 548 331.6)"/>
<ellipse cx="539.3" cy="346.8" rx="3.5" ry="2.7" fill="#bebee2" opacity="0.95" transform="rotate(150.4 539.3 346.8)"/>
<ellipse cx="521.6" cy="356.4" rx="3.9" ry="2.3" fill="#bebee2" opacity="0.95" transform="rotate(159.3 521.6 356.4)"/>
<ellipse cx="494.5" cy="371" rx="3.6" ry="2.4" fill="#bebee2" opacity="0.95" transform="rotate(143.1 494.5 371)"/>
<ellipse cx="481.4" cy="374.2" rx="4.1" ry="2.4" fill="#bebee2" opacity="0.95" transform="rotate(185.3 481.4 374.2)"/>
<ellipse cx="463.7" cy="380" rx="4.1" ry="2.7" fill="#bebee2" opacity="0.95" transform="rotate(184.2 463.7 380)"/>
<ellipse cx="450.7" cy="379.5" rx="4" ry="2.5" fill="#bebee2" opacity="0.95" transform="rotate(184.6 450.7 379.5)"/>
<ellipse cx="432.1" cy="374.6" rx="3.6" ry="2.5" fill="#bebee2" opacity="0.95" transform="rotate(181.2 432.1 374.6)"/>
<ellipse cx="404.7" cy="365.8" rx="3.9" ry="2.7" fill="#bebee2" opacity="0.95" transform="rotate(207.5 404.7 365.8)"/>
<ellipse cx="376.3" cy="345.3" rx="4.1" ry="2.5" fill="#bebee2" opacity="0.95" transform="rotate(232.6 376.3 345.3)"/>
<ellipse cx="365.5" cy="328.3" rx="3.9" ry="2.3" fill="#bebee2" opacity="0.95" transform="rotate(241.5 365.5 328.3)"/>
<ellipse cx="354.5" cy="318.6" rx="4.2" ry="2.6" fill="#bebee2" opacity="0.95" transform="rotate(235.1 354.5 318.6)"/>
<ellipse cx="351.8" cy="300.3" rx="3.9" ry="2.5" fill="#bebee2" opacity="0.95" transform="rotate(261.2 351.8 300.3)"/>
<ellipse cx="346.5" cy="289.6" rx="4" ry="2.4" fill="#bebee2" opacity="0.95" transform="rotate(258.7 346.5 289.6)"/>
<ellipse cx="343.7" cy="273.1" rx="3.7" ry="2.7" fill="#bebee2" opacity="0.95" transform="rotate(280.4 343.7 273.1)"/>
<ellipse cx="345.2" cy="256.4" rx="4.2" ry="2.6" fill="#bebee2" opacity="0.95" transform="rotate(274.8 345.2 256.4)"/>
<ellipse cx="347.1" cy="241.8" rx="3.9" ry="2.6" fill="#bebee2" opacity="0.95" transform="rotate(273.2 347.1 241.8)"/>
<ellipse cx="348.8" cy="227.9" rx="3.9" ry="2.3" fill="#bebee2" opacity="0.95" transform="rotate(305.9 348.8 227.9)"/>
<ellipse cx="357.5" cy="214.4" rx="3.9" ry="2.6" fill="#bebee2" opacity="0.95" transform="rotate(315.6 357.5 214.4)"/>
<ellipse cx="368.4" cy="193.6" rx="3.9" ry="2.6" fill="#bebee2" opacity="0.95" transform="rotate(314 368.4 193.6)"/>
<ellipse cx="379.6" cy="184.4" rx="3.8" ry="2.7" fill="#bebee2" opacity="0.95" transform="rotate(323.5 379.6 184.4)"/>
<ellipse cx="389.2" cy="177.3" rx="4.1" ry="2.6" fill="#bebee2" opacity="0.95" transform="rotate(334.4 389.2 177.3)"/>
<ellipse cx="405.2" cy="162.7" rx="3.7" ry="2.5" fill="#bebee2" opacity="0.95" transform="rotate(335.8 405.2 162.7)"/>
<ellipse cx="417" cy="159.4" rx="4.2" ry="2.3" fill="#bebee2" opacity="0.95" transform="rotate(345.4 417 159.4)"/>
<ellipse cx="430.7" cy="156.9" rx="3.9" ry="2.8" fill="#bebee2" opacity="0.95" transform="rotate(359.9 430.7 156.9)"/>
<ellipse cx="446" cy="152.8" rx="4.2" ry="2.8" fill="#bebee2" opacity="0.95" transform="rotate(358.4 446 152.8)"/>
<ellipse cx="465.2" cy="154.1" rx="3.6" ry="2.4" fill="#bebee2" opacity="0.95" transform="rotate(370.5 465.2 154.1)"/>
<ellipse cx="510.7" cy="162.4" rx="4.1" ry="2.4" fill="#bebee2" opacity="0.95" transform="rotate(369.4 510.7 162.4)"/>
<ellipse cx="537.4" cy="183.2" rx="3.5" ry="2.7" fill="#bebee2" opacity="0.95" transform="rotate(390.6 537.4 183.2)"/>
<ellipse cx="551.2" cy="199.5" rx="3.9" ry="2.7" fill="#bebee2" opacity="0.95" transform="rotate(396.8 551.2 199.5)"/>
<ellipse cx="557.7" cy="215.2" rx="4" ry="2.3" fill="#bebee2" opacity="0.95" transform="rotate(444 557.7 215.2)"/>
<ellipse cx="566.6" cy="244.8" rx="4" ry="2.4" fill="#bebee2" opacity="0.95" transform="rotate(431.1 566.6 244.8)"/>
<ellipse cx="568.2" cy="258" rx="3.9" ry="2.5" fill="#bebee2" opacity="0.95" transform="rotate(440.4 568.2 258)"/>
<ellipse cx="582.2" cy="266.4" rx="4" ry="2.6" fill="#bebee2" opacity="0.95" transform="rotate(84.5 582.2 266.4)"/>
<ellipse cx="580.7" cy="284.6" rx="4" ry="2.6" fill="#bebee2" opacity="0.95" transform="rotate(118.5 580.7 284.6)"/>
<ellipse cx="578.7" cy="298.3" rx="4.1" ry="2.5" fill="#bebee2" opacity="0.95" transform="rotate(114.2 578.7 298.3)"/>
<ellipse cx="569.6" cy="320.4" rx="3.7" ry="2.5" fill="#bebee2" opacity="0.95" transform="rotate(120.6 569.6 320.4)"/>
<ellipse cx="563.4" cy="330.1" rx="4.1" ry="2.7" fill="#bebee2" opacity="0.95" transform="rotate(125.9 563.4 330.1)"/>
<ellipse cx="554.2" cy="339.6" rx="3.9" ry="2.7" fill="#bebee2" opacity="0.95" transform="rotate(124.1 554.2 339.6)"/>
<ellipse cx="545.5" cy="354" rx="4.1" ry="2.6" fill="#bebee2" opacity="0.95" transform="rotate(148.9 545.5 354)"/>
<ellipse cx="527.7" cy="368.5" rx="4.1" ry="2.5" fill="#bebee2" opacity="0.95" transform="rotate(153.8 527.7 368.5)"/>
<ellipse cx="515.8" cy="375.7" rx="4" ry="2.8" fill="#bebee2" opacity="0.95" transform="rotate(138.9 515.8 375.7)"/>
<ellipse cx="500.2" cy="382" rx="3.6" ry="2.4" fill="#bebee2" opacity="0.95" transform="rotate(158.3 500.2 382)"/>
<ellipse cx="482.9" cy="385.8" rx="4.1" ry="2.7" fill="#bebee2" opacity="0.95" transform="rotate(149.8 482.9 385.8)"/>
<ellipse cx="468.9" cy="390.2" rx="3.9" ry="2.5" fill="#bebee2" opacity="0.95" transform="rotate(191.6 468.9 390.2)"/>
<ellipse cx="455.7" cy="387.1" rx="4" ry="2.5" fill="#bebee2" opacity="0.95" transform="rotate(166.7 455.7 387.1)"/>
<ellipse cx="437.8" cy="387.3" rx="3.5" ry="2.8" fill="#bebee2" opacity="0.95" transform="rotate(173.6 437.8 387.3)"/>
<ellipse cx="424.2" cy="384.9" rx="3.6" ry="2.6" fill="#bebee2" opacity="0.95" transform="rotate(208 424.2 384.9)"/>
<ellipse cx="407.1" cy="375.4" rx="4.2" ry="2.7" fill="#bebee2" opacity="0.95" transform="rotate(183.9 407.1 375.4)"/>
<ellipse cx="392.2" cy="368.7" rx="3.8" ry="2.8" fill="#bebee2" opacity="0.95" transform="rotate(224.4 392.2 368.7)"/>
<ellipse cx="375.3" cy="360.8" rx="3.5" ry="2.4" fill="#bebee2" opacity="0.95" transform="rotate(209.7 375.3 360.8)"/>
<ellipse cx="371.1" cy="350.4" rx="4.1" ry="2.5" fill="#bebee2" opacity="0.95" transform="rotate(227.8 371.1 350.4)"/>
<ellipse cx="356.8" cy="333.1" rx="3.8" ry="2.4" fill="#bebee2" opacity="0.95" transform="rotate(240.2 356.8 333.1)"/>
<ellipse cx="348.9" cy="325.3" rx="4.2" ry="2.6" fill="#bebee2" opacity="0.95" transform="rotate(247.2 348.9 325.3)"/>
<ellipse cx="343.4" cy="308.5" rx="4.2" ry="2.4" fill="#bebee2" opacity="0.95" transform="rotate(269.7 343.4 308.5)"/>
<ellipse cx="332.3" cy="278.7" rx="4.1" ry="2.3" fill="#bebee2" opacity="0.95" transform="rotate(281.6 332.3 278.7)"/>
<ellipse cx="333.1" cy="259.4" rx="3.5" ry="2.4" fill="#bebee2" opacity="0.95" transform="rotate(294 333.1 259.4)"/>
<ellipse cx="335.1" cy="241.4" rx="3.9" ry="2.7" fill="#bebee2" opacity="0.95" transform="rotate(272.2 335.1 241.4)"/>
<ellipse cx="339.8" cy="231.1" rx="3.8" ry="2.4" fill="#bebee2" opacity="0.95" transform="rotate(269.7 339.8 231.1)"/>
<ellipse cx="342.7" cy="216.5" rx="4" ry="2.4" fill="#bebee2" opacity="0.95" transform="rotate(271.6 342.7 216.5)"/>
<ellipse cx="358.5" cy="187.2" rx="4.1" ry="2.4" fill="#bebee2" opacity="0.95" transform="rotate(324.5 358.5 187.2)"/>
<ellipse cx="368.9" cy="175.7" rx="3.9" ry="2.5" fill="#bebee2" opacity="0.95" transform="rotate(330.4 368.9 175.7)"/>
<ellipse cx="387.5" cy="163.4" rx="3.6" ry="2.4" fill="#bebee2" opacity="0.95" transform="rotate(331.2 387.5 163.4)"/>
<ellipse cx="414.7" cy="151.2" rx="3.7" ry="2.5" fill="#bebee2" opacity="0.95" transform="rotate(355.9 414.7 151.2)"/>
<ellipse cx="426.9" cy="143.6" rx="3.6" ry="2.5" fill="#bebee2" opacity="0.95" transform="rotate(338.7 426.9 143.6)"/>
<ellipse cx="448.5" cy="144" rx="3.5" ry="2.7" fill="#bebee2" opacity="0.95" transform="rotate(376.9 448.5 144)"/>
<ellipse cx="458.9" cy="141.8" rx="3.7" ry="2.4" fill="#bebee2" opacity="0.95" transform="rotate(351.4 458.9 141.8)"/>
<ellipse cx="481.7" cy="141.5" rx="3.6" ry="2.4" fill="#bebee2" opacity="0.95" transform="rotate(389.9 481.7 141.5)"/>
<ellipse cx="489.9" cy="144.9" rx="4.2" ry="2.3" fill="#bebee2" opacity="0.95" transform="rotate(366.1 489.9 144.9)"/>
<ellipse cx="506.2" cy="153.9" rx="4.1" ry="2.6" fill="#bebee2" opacity="0.95" transform="rotate(361.9 506.2 153.9)"/>
<ellipse cx="523.1" cy="158.2" rx="3.9" ry="2.4" fill="#bebee2" opacity="0.95" transform="rotate(379.2 523.1 158.2)"/>
<ellipse cx="537.9" cy="170.3" rx="3.6" ry="2.3" fill="#bebee2" opacity="0.95" transform="rotate(387 537.9 170.3)"/>
<ellipse cx="546.5" cy="181.6" rx="3.9" ry="2.7" fill="#bebee2" opacity="0.95" transform="rotate(393.9 546.5 181.6)"/>
<ellipse cx="556.7" cy="194.7" rx="4" ry="2.5" fill="#bebee2" opacity="0.95" transform="rotate(395.6 556.7 194.7)"/>
<ellipse cx="565.8" cy="203" rx="4.1" ry="2.7" fill="#bebee2" opacity="0.95" transform="rotate(413 565.8 203)"/>
<ellipse cx="573.3" cy="217.2" rx="4.1" ry="2.4" fill="#bebee2" opacity="0.95" transform="rotate(426.5 573.3 217.2)"/>
<ellipse cx="577.4" cy="239.9" rx="3.8" ry="2.6" fill="#bebee2" opacity="0.95" transform="rotate(423.3 577.4 239.9)"/>
<ellipse cx="590.3" cy="276" rx="4" ry="2.7" fill="#bebee2" opacity="0.95" transform="rotate(78 590.3 276)"/>
<ellipse cx="589.3" cy="291.2" rx="4" ry="2.3" fill="#bebee2" opacity="0.95" transform="rotate(95.9 589.3 291.2)"/>
<ellipse cx="582.4" cy="311.4" rx="3.9" ry="2.6" fill="#bebee2" opacity="0.95" transform="rotate(110.8 582.4 311.4)"/>
<ellipse cx="569.5" cy="334.3" rx="3.7" ry="2.7" fill="#bebee2" opacity="0.95" transform="rotate(104.1 569.5 334.3)"/>
<ellipse cx="547" cy="361.8" rx="3.9" ry="2.6" fill="#bebee2" opacity="0.95" transform="rotate(115.9 547 361.8)"/>
<ellipse cx="534.4" cy="371.5" rx="4" ry="2.3" fill="#bebee2" opacity="0.95" transform="rotate(160.3 534.4 371.5)"/>
<ellipse cx="523.5" cy="381.1" rx="3.6" ry="2.5" fill="#bebee2" opacity="0.95" transform="rotate(140.5 523.5 381.1)"/>
<ellipse cx="509.1" cy="390.2" rx="3.9" ry="2.7" fill="#bebee2" opacity="0.95" transform="rotate(141.9 509.1 390.2)"/>
<ellipse cx="491.9" cy="396.5" rx="3.8" ry="2.7" fill="#bebee2" opacity="0.95" transform="rotate(160.3 491.9 396.5)"/>
<ellipse cx="479.3" cy="399.2" rx="3.7" ry="2.4" fill="#bebee2" opacity="0.95" transform="rotate(182.8 479.3 399.2)"/>
<ellipse cx="462.7" cy="401.1" rx="4.1" ry="2.7" fill="#bebee2" opacity="0.95" transform="rotate(191.1 462.7 401.1)"/>
<ellipse cx="449.5" cy="398.6" rx="4.2" ry="2.4" fill="#bebee2" opacity="0.95" transform="rotate(203.4 449.5 398.6)"/>
<ellipse cx="429.1" cy="395" rx="3.5" ry="2.5" fill="#bebee2" opacity="0.95" transform="rotate(193.6 429.1 395)"/>
<ellipse cx="418.6" cy="391.1" rx="4" ry="2.8" fill="#bebee2" opacity="0.95" transform="rotate(217.7 418.6 391.1)"/>
<ellipse cx="396.3" cy="386.3" rx="3.5" ry="2.6" fill="#bebee2" opacity="0.95" transform="rotate(223.6 396.3 386.3)"/>
<ellipse cx="384.8" cy="376" rx="4.1" ry="2.6" fill="#bebee2" opacity="0.95" transform="rotate(215 384.8 376)"/>
<ellipse cx="372.4" cy="367.9" rx="3.7" ry="2.5" fill="#bebee2" opacity="0.95" transform="rotate(239.4 372.4 367.9)"/>
<ellipse cx="362.3" cy="359.8" rx="3.9" ry="2.4" fill="#bebee2" opacity="0.95" transform="rotate(245.1 362.3 359.8)"/>
<ellipse cx="351.5" cy="343.7" rx="3.6" ry="2.4" fill="#bebee2" opacity="0.95" transform="rotate(216.9 351.5 343.7)"/>
<ellipse cx="343.3" cy="332.3" rx="3.9" ry="2.7" fill="#bebee2" opacity="0.95" transform="rotate(221.4 343.3 332.3)"/>
<ellipse cx="333.2" cy="316.8" rx="4" ry="2.5" fill="#bebee2" opacity="0.95" transform="rotate(234.2 333.2 316.8)"/>
<ellipse cx="328.7" cy="300.9" rx="3.7" ry="2.4" fill="#bebee2" opacity="0.95" transform="rotate(246.1 328.7 300.9)"/>
<ellipse cx="325.1" cy="287.1" rx="3.7" ry="2.7" fill="#bebee2" opacity="0.95" transform="rotate(239.1 325.1 287.1)"/>
<ellipse cx="323.8" cy="269.6" rx="4.2" ry="2.4" fill="#bebee2" opacity="0.95" transform="rotate(258.7 323.8 269.6)"/>
<ellipse cx="326.2" cy="256.8" rx="3.8" ry="2.3" fill="#bebee2" opacity="0.95" transform="rotate(290 326.2 256.8)"/>
<ellipse cx="325.2" cy="238.2" rx="3.7" ry="2.8" fill="#bebee2" opacity="0.95" transform="rotate(264.4 325.2 238.2)"/>
<ellipse cx="330.7" cy="225.3" rx="4" ry="2.6" fill="#bebee2" opacity="0.95" transform="rotate(281 330.7 225.3)"/>
<ellipse cx="337.9" cy="205.1" rx="4" ry="2.7" fill="#bebee2" opacity="0.95" transform="rotate(307.2 337.9 205.1)"/>
<ellipse cx="345" cy="190.9" rx="3.6" ry="2.7" fill="#bebee2" opacity="0.95" transform="rotate(321.8 345 190.9)"/>
<ellipse cx="365.6" cy="168.1" rx="3.9" ry="2.5" fill="#bebee2" opacity="0.95" transform="rotate(337 365.6 168.1)"/>
<ellipse cx="379.5" cy="155.9" rx="3.8" ry="2.5" fill="#bebee2" opacity="0.95" transform="rotate(319.3 379.5 155.9)"/>
<ellipse cx="389.8" cy="150.6" rx="3.8" ry="2.5" fill="#bebee2" opacity="0.95" transform="rotate(331.9 389.8 150.6)"/>
<ellipse cx="408" cy="141.1" rx="3.6" ry="2.5" fill="#bebee2" opacity="0.95" transform="rotate(335.9 408 141.1)"/>
<ellipse cx="421" cy="136.2" rx="4.1" ry="2.5" fill="#bebee2" opacity="0.95" transform="rotate(326.2 421 136.2)"/>
<ellipse cx="438.7" cy="130.6" rx="3.8" ry="2.8" fill="#bebee2" opacity="0.95" transform="rotate(339.2 438.7 130.6)"/>
<ellipse cx="484.9" cy="132.4" rx="3.9" ry="2.8" fill="#bebee2" opacity="0.95" transform="rotate(383.8 484.9 132.4)"/>
<ellipse cx="500.4" cy="137.9" rx="3.8" ry="2.6" fill="#bebee2" opacity="0.95" transform="rotate(373.9 500.4 137.9)"/>
<ellipse cx="518.6" cy="145.6" rx="3.6" ry="2.5" fill="#bebee2" opacity="0.95" transform="rotate(388.3 518.6 145.6)"/>
<ellipse cx="529.6" cy="152.6" rx="4.2" ry="2.5" fill="#bebee2" opacity="0.95" transform="rotate(409.5 529.6 152.6)"/>
<ellipse cx="544.5" cy="160.8" rx="3.9" ry="2.7" fill="#bebee2" opacity="0.95" transform="rotate(393 544.5 160.8)"/>
<ellipse cx="554.6" cy="170.3" rx="3.9" ry="2.4" fill="#bebee2" opacity="0.95" transform="rotate(420.1 554.6 170.3)"/>
<ellipse cx="566.5" cy="185.7" rx="4.1" ry="2.5" fill="#bebee2" opacity="0.95" transform="rotate(435.5 566.5 185.7)"/>
<ellipse cx="572.3" cy="197.4" rx="3.6" ry="2.4" fill="#bebee2" opacity="0.95" transform="rotate(419.7 572.3 197.4)"/>
<ellipse cx="579.8" cy="214.4" rx="3.9" ry="2.3" fill="#bebee2" opacity="0.95" transform="rotate(449.2 579.8 214.4)"/>
<ellipse cx="585.2" cy="231.1" rx="3.5" ry="2.5" fill="#bebee2" opacity="0.95" transform="rotate(443.5 585.2 231.1)"/>
<ellipse cx="590" cy="244.9" rx="3.8" ry="2.6" fill="#bebee2" opacity="0.95" transform="rotate(428 590 244.9)"/>
<ellipse cx="590.8" cy="261.5" rx="3.9" ry="2.5" fill="#bebee2" opacity="0.95" transform="rotate(470.3 590.8 261.5)"/>
</g>
<circle cx="457" cy="265.6" r="99.8" fill="#667c70"/>
<circle cx="457" cy="265.6" r="96.2" fill="#ece27a"/>
<g clip-path="url(#plaqueclip)">
<path d="M456.9,340.1 L456.1,340.2 L455.3,340.2 L454.6,340.1 L453.8,340 L453,339.9 L452.3,339.8 L451.5,339.8 L450.8,339.8 L450,339.9 L449.2,340.1 L448.4,340.3 L447.6,340.5 L446.8,340.7 L446,340.9 L445.2,341 L444.5,341.1 L443.7,341.1 L442.9,341 L442.2,340.8 L441.4,340.6 L440.7,340.4 L440,340.2 L439.2,340.1 L438.5,340 L437.7,340 L436.9,340 L436.1,340.1 L435.3,340.2 L434.5,340.2 L433.6,340.3 L432.8,340.2 L432.1,340.2 L431.3,340 L430.6,339.8 L429.9,339.5 L429.2,339.2 L428.5,338.9 L427.8,338.6 L427.1,338.3 L426.3,338.1 L425.6,338 L424.8,337.9 L424,337.8 L423.1,337.8 L422.3,337.7 L421.5,337.6 L420.7,337.5 L420,337.3 L419.3,337 L418.6,336.7 L417.9,336.3 L417.3,335.9 L416.6,335.5 L416,335.1 L415.3,334.7 L414.6,334.4 L413.9,334.2 L413.1,334 L412.3,333.8 L411.5,333.6 L410.7,333.4 L410,333.2 L409.2,333 L408.5,332.7 L407.8,332.3 L407.2,331.9 L406.6,331.4 L406,330.9 L405.4,330.4 L404.9,329.9 L404.2,329.5 L403.6,329.1 L402.9,328.7 L402.2,328.4 L401.4,328.1 L400.7,327.8 L399.9,327.5 L399.2,327.2 L398.5,326.8 L397.8,326.4 L397.2,325.9 L396.6,325.4 L396.1,324.8 L395.6,324.3 L395.2,323.7 L394.7,323.1 L394.1,322.5 L393.6,322 L393,321.5 L392.3,321.1 L391.6,320.7 L390.9,320.3 L390.2,319.9 L389.6,319.4 L388.9,319 L388.4,318.4 L387.8,317.9 L387.4,317.3 L387,316.6 L386.6,316 L386.2,315.3 L385.8,314.6 L385.4,314 L384.9,313.4 L384.4,312.8 L383.8,312.3 L383.2,311.8 L382.6,311.3 L382,310.7 L381.4,310.2 L380.8,309.6 L380.4,309 L380,308.4 L379.6,307.7 L379.3,307 L379,306.2 L378.8,305.5 L378.5,304.8 L378.2,304.1 L377.8,303.4 L377.4,302.8 L376.9,302.2 L376.4,301.6 L375.9,300.9 L375.4,300.3 L374.9,299.7 L374.5,299.1 L374.1,298.4 L373.8,297.7 L373.5,296.9 L373.3,296.2 L373.2,295.4 L373,294.7 L372.9,293.9 L372.7,293.2 L372.4,292.5 L372.1,291.8 L371.7,291.1 L371.3,290.4 L370.9,289.7 L370.5,289.1 L370.1,288.4 L369.7,287.7 L369.5,286.9 L369.3,286.2 L369.1,285.4 L369.1,284.7 L369,283.9 L369,283.1 L369,282.3 L368.9,281.6 L368.7,280.8 L368.5,280.1 L368.3,279.4 L368,278.6 L367.6,277.9 L367.3,277.2 L367,276.4 L366.8,275.7 L366.6,274.9 L366.5,274.2 L366.5,273.4 L366.6,272.6 L366.6,271.8 L366.7,271.1 L366.8,270.3 L366.8,269.5 L366.7,268.8 L366.6,268 L366.5,267.2 L366.3,266.5 L366.1,265.7 L365.9,265 L365.7,264.2 L365.5,263.4 L365.5,262.6 L365.5,261.9 L365.6,261.1 L365.7,260.3 L365.9,259.6 L366.1,258.8 L366.3,258.1 L366.4,257.3 L366.5,256.6 L366.5,255.8 L366.4,255 L366.3,254.2 L366.2,253.5 L366.1,252.7 L366,251.9 L366,251.1 L366,250.3 L366.2,249.6 L366.4,248.8 L366.6,248.1 L366.9,247.4 L367.2,246.6 L367.4,245.9 L367.7,245.2 L367.8,244.4 L367.9,243.7 L368,242.9 L368,242.1 L368,241.3 L368,240.5 L368,239.7 L368.1,238.9 L368.2,238.2 L368.4,237.5 L368.7,236.7 L369.1,236 L369.4,235.4 L369.8,234.7 L370.2,234 L370.5,233.3 L370.7,232.6 L370.9,231.8 L371.1,231.1 L371.2,230.3 L371.3,229.5 L371.4,228.7 L371.5,227.9 L371.7,227.2 L372,226.4 L372.3,225.7 L372.6,225.1 L373.1,224.4 L373.5,223.8 L374,223.2 L374.4,222.5 L374.8,221.9 L375.2,221.2 L375.5,220.5 L375.7,219.8 L375.9,219 L376.1,218.2 L376.3,217.5 L376.6,216.7 L376.9,216 L377.2,215.3 L377.6,214.6 L378.1,214 L378.6,213.5 L379.1,212.9 L379.7,212.3 L380.2,211.8 L380.7,211.2 L381.1,210.6 L381.5,209.9 L381.9,209.2 L382.2,208.5 L382.5,207.8 L382.8,207 L383.1,206.3 L383.5,205.6 L383.9,205 L384.4,204.4 L385,203.9 L385.6,203.4 L386.2,202.9 L386.8,202.4 L387.4,201.9 L388,201.4 L388.5,200.8 L389,200.3 L389.4,199.6 L389.8,198.9 L390.2,198.3 L390.6,197.6 L391,196.9 L391.5,196.3 L392,195.7 L392.6,195.2 L393.2,194.7 L393.9,194.3 L394.5,193.9 L395.2,193.5 L395.8,193.1 L396.5,192.7 L397.1,192.2 L397.6,191.7 L398.1,191.1 L398.6,190.5 L399.1,189.8 L399.6,189.2 L400.1,188.6 L400.6,188.1 L401.2,187.6 L401.9,187.1 L402.5,186.7 L403.2,186.4 L403.9,186.1 L404.7,185.8 L405.4,185.5 L406,185.1 L406.7,184.7 L407.3,184.3 L407.9,183.8 L408.5,183.2 L409,182.7 L409.6,182.1 L410.2,181.6 L410.8,181.2 L411.5,180.7 L412.2,180.4 L412.9,180.1 L413.6,179.9 L414.4,179.7 L415.1,179.5 L415.9,179.3 L416.6,179.1 L417.3,178.8 L418,178.4 L418.7,178 L419.3,177.6 L419.9,177.1 L420.6,176.6 L421.2,176.2 L421.9,175.8 L422.6,175.5 L423.3,175.3 L424.1,175.1 L424.9,175 L425.6,174.9 L426.4,174.8 L427.2,174.7 L427.9,174.5 L428.7,174.3 L429.4,174.1 L430.1,173.7 L430.8,173.4 L431.5,173 L432.2,172.6 L432.9,172.3 L433.6,172 L434.3,171.8 L435.1,171.6 L435.9,171.5 L436.6,171.5 L437.4,171.5 L438.2,171.5 L439,171.5 L439.7,171.5 L440.5,171.4 L441.2,171.2 L442,171 L442.7,170.7 L443.4,170.4 L444.2,170.1 L444.9,169.9 L445.7,169.7 L446.4,169.6 L447.2,169.5 L448,169.5 L448.7,169.6 L449.5,169.7 L450.3,169.8 L451.1,169.9 L451.8,170 L452.6,170 L453.4,169.9 L454.1,169.8 L454.9,169.6 L455.6,169.4 L456.4,169.3 L457.2,169.1 L457.9,169 L458.7,169 L459.5,169.1 L460.2,169.2 L461,169.4 L461.8,169.6 L462.5,169.9 L463.3,170.1 L464,170.2 L464.8,170.4 L465.5,170.4 L466.3,170.4 L467.1,170.4 L467.9,170.3 L468.6,170.2 L469.4,170.2 L470.2,170.2 L470.9,170.3 L471.7,170.5 L472.4,170.7 L473.2,171 L473.9,171.4 L474.6,171.7 L475.3,172.1 L476,172.4 L476.7,172.6 L477.5,172.8 L478.2,172.9 L479,173 L479.7,173.1 L480.5,173.2 L481.3,173.4 L482,173.6 L482.7,173.8 L483.4,174.2 L484.1,174.6 L484.7,175.1 L485.4,175.6 L486,176.1 L486.6,176.6 L487.2,177 L487.9,177.5 L488.6,177.8 L489.3,178.1 L490,178.4 L490.7,178.6 L491.4,178.9 L492.1,179.2 L492.7,179.5 L493.4,179.9 L494,180.3 L494.6,180.9 L495.2,181.4 L495.7,182 L496.3,182.6 L496.8,183.2 L497.4,183.8 L498,184.2 L498.6,184.7 L499.3,185.1 L500,185.4 L500.6,185.7 L501.3,186 L502,186.4 L502.7,186.8 L503.3,187.3 L503.8,187.8 L504.4,188.4 L504.9,189 L505.4,189.6 L505.9,190.3 L506.3,190.9 L506.9,191.5 L507.4,192.1 L508,192.5 L508.6,193 L509.2,193.4 L509.9,193.8 L510.5,194.2 L511.1,194.6 L511.7,195.1 L512.3,195.7 L512.8,196.2 L513.3,196.9 L513.7,197.6 L514.1,198.3 L514.5,199 L514.9,199.7 L515.3,200.4 L515.8,201 L516.3,201.5 L516.8,202.1 L517.4,202.5 L518,203 L518.6,203.5 L519.2,204 L519.7,204.6 L520.2,205.1 L520.6,205.8 L521,206.5 L521.4,207.2 L521.7,207.9 L522,208.7 L522.3,209.4 L522.7,210.1 L523.1,210.8 L523.5,211.4 L524,212 L524.6,212.5 L525.1,213 L525.7,213.6 L526.2,214.2 L526.7,214.8 L527.1,215.4 L527.4,216.1 L527.7,216.8 L528,217.6 L528.2,218.4 L528.4,219.1 L528.7,219.9 L528.9,220.6 L529.2,221.4 L529.6,222 L530,222.7 L530.4,223.3 L530.9,223.9 L531.4,224.5 L531.8,225.2 L532.2,225.9 L532.5,226.6 L532.7,227.3 L532.9,228.1 L533,228.9 L533.1,229.7 L533.2,230.5 L533.3,231.3 L533.4,232 L533.6,232.8 L533.9,233.5 L534.1,234.2 L534.5,234.9 L534.8,235.6 L535.2,236.3 L535.5,237 L535.8,237.7 L535.9,238.4 L536.1,239.2 L536.1,240 L536.1,240.8 L536.1,241.6 L536.1,242.4 L536,243.2 L536.1,244 L536.1,244.8 L536.2,245.5 L536.4,246.3 L536.6,247 L536.9,247.7 L537.1,248.5 L537.3,249.2 L537.5,250 L537.5,250.7 L537.5,251.5 L537.5,252.3 L537.4,253.1 L537.2,253.9 L537,254.7 L536.9,255.5 L536.8,256.3 L536.7,257 L536.7,257.8 L536.8,258.6 L536.9,259.3 L537,260.1 L537.1,260.8 L537.2,261.6 L537.2,262.4 L537.2,263.1 L537.1,263.9 L536.9,264.7 L536.7,265.5 L536.4,266.2 L536.1,267 L535.8,267.7 L535.6,268.5 L535.4,269.3 L535.3,270 L535.3,270.8 L535.3,271.5 L535.3,272.3 L535.3,273.1 L535.2,273.9 L535.1,274.6 L535,275.4 L534.7,276.1 L534.4,276.9 L534.1,277.6 L533.6,278.3 L533.2,279 L532.8,279.7 L532.5,280.4 L532.2,281.1 L531.9,281.8 L531.8,282.6 L531.6,283.3 L531.5,284.1 L531.3,284.8 L531.1,285.6 L530.9,286.3 L530.6,287 L530.2,287.7 L529.8,288.4 L529.2,289 L528.7,289.6 L528.2,290.2 L527.7,290.9 L527.2,291.5 L526.7,292.1 L526.4,292.8 L526,293.5 L525.8,294.2 L525.5,294.9 L525.2,295.6 L524.9,296.3 L524.5,297 L524.1,297.6 L523.6,298.2 L523,298.8 L522.4,299.3 L521.7,299.8 L521,300.3 L520.4,300.8 L519.8,301.4 L519.2,301.9 L518.7,302.5 L518.3,303.1 L517.8,303.7 L517.4,304.3 L517,304.9 L516.5,305.5 L516,306.1 L515.5,306.6 L514.9,307.1 L514.2,307.6 L513.5,308 L512.7,308.4 L512,308.7 L511.2,309.1 L510.5,309.5 L509.9,309.9 L509.3,310.4 L508.7,310.9 L508.2,311.4 L507.7,312 L507.1,312.5 L506.6,313 L506,313.5 L505.4,314 L504.7,314.3 L503.9,314.7 L503.1,314.9 L502.3,315.2 L501.5,315.4 L500.7,315.7 L500,315.9 L499.3,316.3 L498.6,316.6 L498,317 L497.3,317.5 L496.7,317.9 L496.1,318.4 L495.5,318.8 L494.8,319.2 L494.1,319.5 L493.3,319.7 L492.5,319.9 L491.7,320 L490.9,320.1 L490.1,320.2 L489.2,320.3 L488.4,320.4 L487.7,320.6 L486.9,320.9 L486.2,321.2 L485.5,321.5 L484.9,321.8 L484.2,322.2 L483.5,322.5 L482.8,322.8 L482,323 L481.2,323.2 L480.4,323.3 L479.6,323.4 L478.8,323.4 L478,323.4 L477.1,323.5 L476.4,323.6 L475.6,323.7 L474.8,323.9 L474.1,324.1 L473.4,324.4 L472.6,324.7 L471.9,325 L471.1,325.3 L470.4,325.5 L469.6,325.6 L468.8,325.6 L468,325.6 L467.2,325.5 L466.4,325.4 L465.6,325.3 L464.7,325.2 L464,325.1 L463.2,325.1 L462.4,325.1 L461.6,325.2 L460.8,325.4 L460.1,325.6 L459.3,325.7 L458.5,325.9 L457.7,325.9 L456.9,326 Z" fill="#b7a3df" stroke="#a48fd2" stroke-width="0.5"/>
<path d="M456.9,337 L456.2,336.9 L455.4,336.4 L454.7,335.6 L454,334.6 L453.4,333.7 L452.7,332.9 L452.1,332.4 L451.4,332.3 L450.7,332.6 L449.9,333.2 L449.1,334.2 L448.3,335.2 L447.4,336.3 L446.6,337.2 L445.8,337.8 L445,338 L444.3,337.8 L443.6,337.2 L443.1,336.4 L442.5,335.4 L442,334.4 L441.5,333.5 L440.9,332.9 L440.3,332.6 L439.5,332.8 L438.7,333.3 L437.8,334.1 L436.8,335 L435.8,335.9 L434.8,336.7 L433.9,337.1 L433,337.2 L432.4,336.9 L431.8,336.2 L431.4,335.3 L431.1,334.2 L430.7,333.1 L430.3,332.2 L429.9,331.5 L429.3,331.1 L428.5,331.2 L427.6,331.6 L426.5,332.2 L425.4,332.9 L424.3,333.7 L423.2,334.3 L422.2,334.6 L421.4,334.5 L420.8,334.1 L420.4,333.4 L420.1,332.4 L419.9,331.3 L419.7,330.1 L419.5,329.1 L419.1,328.4 L418.6,328 L417.8,327.9 L416.9,328.1 L415.7,328.6 L414.5,329.2 L413.3,329.7 L412.1,330.1 L411.1,330.3 L410.3,330.2 L409.8,329.7 L409.4,328.9 L409.3,327.8 L409.3,326.7 L409.3,325.6 L409.2,324.5 L409,323.7 L408.5,323.2 L407.7,323.1 L406.7,323.2 L405.6,323.4 L404.3,323.8 L403,324.2 L401.8,324.4 L400.7,324.4 L400,324.2 L399.5,323.6 L399.3,322.7 L399.4,321.7 L399.5,320.6 L399.7,319.4 L399.8,318.4 L399.6,317.6 L399.3,317 L398.6,316.7 L397.6,316.6 L396.4,316.7 L395.1,316.9 L393.7,317 L392.5,317.1 L391.5,316.9 L390.8,316.5 L390.5,315.9 L390.4,315 L390.6,314 L390.9,312.8 L391.3,311.7 L391.5,310.7 L391.5,309.8 L391.2,309.2 L390.6,308.8 L389.6,308.6 L388.5,308.5 L387.2,308.5 L385.8,308.4 L384.6,308.3 L383.7,308 L383.1,307.5 L382.8,306.8 L382.9,305.9 L383.3,304.9 L383.8,303.8 L384.3,302.7 L384.7,301.7 L384.9,300.8 L384.7,300.2 L384.1,299.6 L383.2,299.3 L382.1,299 L380.8,298.8 L379.5,298.6 L378.4,298.3 L377.5,297.8 L377,297.2 L376.8,296.5 L377.1,295.6 L377.6,294.7 L378.2,293.6 L378.9,292.7 L379.4,291.7 L379.7,290.9 L379.6,290.2 L379.2,289.6 L378.3,289.1 L377.3,288.7 L376,288.3 L374.8,287.9 L373.7,287.4 L372.9,286.9 L372.5,286.2 L372.5,285.4 L372.8,284.6 L373.5,283.7 L374.3,282.8 L375.1,281.9 L375.8,281 L376.2,280.3 L376.2,279.5 L375.8,278.9 L375.1,278.3 L374.1,277.7 L372.9,277.2 L371.8,276.6 L370.8,276 L370.1,275.3 L369.7,274.6 L369.8,273.8 L370.3,273.1 L371.1,272.3 L372,271.5 L372.9,270.7 L373.7,269.9 L374.2,269.2 L374.3,268.5 L374.1,267.8 L373.4,267.1 L372.5,266.4 L371.4,265.7 L370.4,265 L369.5,264.2 L368.8,263.5 L368.6,262.7 L368.8,262 L369.4,261.3 L370.2,260.6 L371.3,259.9 L372.3,259.3 L373.2,258.6 L373.8,258 L374,257.3 L373.8,256.6 L373.3,255.8 L372.5,255 L371.5,254.2 L370.6,253.3 L369.8,252.4 L369.2,251.6 L369.1,250.8 L369.4,250.1 L370.1,249.5 L371,248.9 L372.1,248.4 L373.2,247.9 L374.2,247.4 L374.9,246.8 L375.2,246.2 L375.1,245.4 L374.7,244.6 L374,243.7 L373.1,242.7 L372.3,241.7 L371.6,240.8 L371.2,239.9 L371.2,239.1 L371.6,238.4 L372.3,237.9 L373.3,237.5 L374.5,237.1 L375.6,236.7 L376.7,236.4 L377.4,235.9 L377.8,235.3 L377.8,234.5 L377.5,233.7 L376.9,232.7 L376.2,231.6 L375.5,230.5 L375,229.5 L374.7,228.5 L374.8,227.7 L375.2,227.1 L376.1,226.7 L377.1,226.4 L378.3,226.2 L379.5,226 L380.6,225.7 L381.4,225.4 L381.9,224.8 L382,224.1 L381.8,223.2 L381.3,222.1 L380.8,221 L380.2,219.8 L379.8,218.7 L379.6,217.7 L379.8,217 L380.4,216.4 L381.2,216.1 L382.3,215.9 L383.6,215.9 L384.8,215.8 L385.9,215.7 L386.7,215.5 L387.3,215 L387.5,214.3 L387.4,213.4 L387.1,212.3 L386.7,211 L386.3,209.8 L386.1,208.7 L386,207.7 L386.3,207 L386.9,206.5 L387.9,206.3 L389,206.3 L390.2,206.4 L391.4,206.5 L392.5,206.6 L393.4,206.5 L394,206.1 L394.3,205.4 L394.4,204.4 L394.2,203.3 L394,202.1 L393.8,200.8 L393.7,199.6 L393.8,198.7 L394.1,198 L394.8,197.6 L395.7,197.5 L396.8,197.7 L398,197.9 L399.2,198.2 L400.3,198.4 L401.2,198.4 L401.9,198.1 L402.3,197.4 L402.4,196.5 L402.4,195.4 L402.4,194.1 L402.3,192.8 L402.3,191.7 L402.6,190.7 L403,190.1 L403.7,189.8 L404.7,189.8 L405.8,190.1 L406.9,190.5 L408.1,191 L409.1,191.3 L410,191.4 L410.7,191.2 L411.2,190.6 L411.5,189.7 L411.6,188.6 L411.7,187.3 L411.8,186.1 L412,184.9 L412.4,184 L412.9,183.5 L413.7,183.3 L414.6,183.5 L415.7,183.9 L416.8,184.5 L417.9,185.1 L418.9,185.5 L419.8,185.8 L420.5,185.7 L421,185.2 L421.4,184.3 L421.7,183.3 L422,182 L422.3,180.8 L422.6,179.7 L423.1,178.9 L423.7,178.4 L424.5,178.3 L425.4,178.6 L426.4,179.2 L427.4,179.9 L428.4,180.6 L429.3,181.2 L430.2,181.6 L430.9,181.6 L431.5,181.2 L432,180.4 L432.5,179.3 L432.9,178.2 L433.3,177 L433.8,176 L434.4,175.2 L435.1,174.8 L435.8,174.8 L436.7,175.2 L437.6,175.9 L438.5,176.8 L439.4,177.6 L440.3,178.3 L441.1,178.8 L441.8,178.9 L442.5,178.5 L443.1,177.8 L443.6,176.8 L444.2,175.7 L444.8,174.6 L445.4,173.6 L446.1,172.9 L446.8,172.6 L447.5,172.8 L448.3,173.3 L449.1,174.1 L449.9,175 L450.7,176 L451.5,176.8 L452.2,177.4 L453,177.5 L453.6,177.3 L454.3,176.7 L455,175.8 L455.7,174.8 L456.4,173.8 L457.2,172.9 L457.9,172.3 L458.7,172.1 L459.4,172.4 L460.1,173 L460.8,173.9 L461.5,175 L462.2,176 L462.8,177 L463.5,177.6 L464.2,177.9 L464.9,177.8 L465.6,177.3 L466.4,176.5 L467.2,175.6 L468.1,174.7 L468.9,174 L469.7,173.5 L470.5,173.4 L471.2,173.7 L471.8,174.5 L472.4,175.5 L472.9,176.6 L473.4,177.8 L474,178.9 L474.5,179.6 L475.2,180 L475.9,180 L476.7,179.7 L477.6,179.1 L478.5,178.3 L479.4,177.6 L480.3,177 L481.1,176.7 L481.9,176.8 L482.5,177.3 L483,178.2 L483.4,179.4 L483.8,180.7 L484.1,182 L484.4,183.1 L484.9,184.1 L485.4,184.6 L486.1,184.8 L486.9,184.6 L487.8,184.2 L488.7,183.6 L489.7,183.1 L490.6,182.7 L491.5,182.5 L492.2,182.7 L492.7,183.4 L493.1,184.3 L493.3,185.5 L493.5,186.9 L493.6,188.2 L493.8,189.5 L494.1,190.4 L494.6,191 L495.2,191.3 L496.1,191.2 L497,190.9 L498.1,190.4 L499.1,190 L500.1,189.7 L501,189.6 L501.7,189.9 L502.1,190.6 L502.4,191.6 L502.5,192.8 L502.5,194.1 L502.5,195.5 L502.5,196.7 L502.7,197.7 L503.1,198.3 L503.7,198.6 L504.6,198.6 L505.6,198.4 L506.7,198.1 L507.8,197.8 L508.9,197.7 L509.7,197.7 L510.4,198.1 L510.7,198.8 L510.9,199.8 L510.8,201 L510.6,202.4 L510.4,203.7 L510.3,204.9 L510.3,205.9 L510.6,206.6 L511.2,207 L512.1,207.1 L513.1,207 L514.3,206.9 L515.4,206.7 L516.5,206.7 L517.4,206.8 L518,207.3 L518.2,208 L518.2,209 L518,210.2 L517.7,211.5 L517.3,212.8 L517.1,213.9 L517,214.9 L517.2,215.6 L517.8,216.1 L518.6,216.3 L519.7,216.3 L520.9,216.3 L522.1,216.3 L523.2,216.4 L524,216.7 L524.6,217.2 L524.8,218 L524.6,219 L524.3,220.1 L523.8,221.3 L523.2,222.5 L522.8,223.6 L522.6,224.6 L522.8,225.3 L523.2,225.8 L524,226.2 L525.1,226.4 L526.2,226.5 L527.4,226.7 L528.5,227 L529.3,227.4 L529.7,228 L529.8,228.8 L529.5,229.8 L529,230.8 L528.3,232 L527.6,233.1 L527,234.1 L526.6,235 L526.6,235.8 L527,236.4 L527.7,236.8 L528.7,237.2 L529.8,237.5 L531,237.9 L531.9,238.3 L532.7,238.8 L533,239.5 L533,240.3 L532.5,241.2 L531.8,242.2 L531,243.2 L530.1,244.2 L529.4,245.1 L528.9,246 L528.8,246.7 L529.1,247.4 L529.7,247.9 L530.6,248.4 L531.7,248.9 L532.7,249.4 L533.6,250 L534.2,250.6 L534.5,251.3 L534.3,252.1 L533.7,252.9 L532.9,253.8 L531.9,254.7 L530.9,255.5 L530,256.4 L529.4,257.1 L529.2,257.9 L529.3,258.5 L529.9,259.2 L530.7,259.8 L531.7,260.5 L532.6,261.1 L533.4,261.8 L534,262.5 L534.1,263.2 L533.8,264 L533.1,264.7 L532.1,265.5 L531,266.2 L529.9,266.9 L528.9,267.6 L528.2,268.2 L527.8,268.9 L527.9,269.6 L528.4,270.3 L529.1,271.1 L529.9,271.9 L530.8,272.7 L531.5,273.5 L531.9,274.2 L531.9,275 L531.5,275.7 L530.7,276.3 L529.6,276.9 L528.4,277.4 L527.1,277.9 L526,278.4 L525.2,279 L524.7,279.6 L524.7,280.3 L525,281 L525.6,281.9 L526.3,282.8 L526.9,283.7 L527.5,284.6 L527.7,285.4 L527.6,286.1 L527.1,286.7 L526.1,287.2 L525,287.6 L523.6,287.9 L522.3,288.2 L521.1,288.5 L520.2,288.9 L519.6,289.4 L519.5,290.1 L519.6,290.9 L520,291.8 L520.6,292.8 L521.1,293.8 L521.4,294.7 L521.5,295.6 L521.3,296.3 L520.6,296.8 L519.6,297.1 L518.4,297.2 L517,297.3 L515.6,297.4 L514.4,297.5 L513.3,297.7 L512.7,298.1 L512.4,298.7 L512.4,299.4 L512.6,300.4 L512.9,301.4 L513.2,302.5 L513.4,303.4 L513.3,304.3 L512.9,304.9 L512.2,305.2 L511.1,305.3 L509.9,305.3 L508.5,305.1 L507.1,304.9 L505.8,304.8 L504.8,304.8 L504.1,305.1 L503.7,305.6 L503.5,306.3 L503.6,307.3 L503.7,308.4 L503.9,309.4 L503.9,310.4 L503.7,311.2 L503.2,311.8 L502.4,312 L501.3,311.9 L500,311.6 L498.7,311.2 L497.4,310.8 L496.2,310.5 L495.2,310.3 L494.4,310.4 L493.9,310.9 L493.6,311.6 L493.5,312.6 L493.5,313.7 L493.4,314.7 L493.3,315.7 L492.9,316.5 L492.3,316.9 L491.5,317 L490.5,316.7 L489.3,316.2 L488.1,315.6 L486.8,314.9 L485.7,314.4 L484.7,314 L484,314 L483.4,314.3 L483,315 L482.7,316 L482.5,317 L482.2,318.1 L481.9,319.1 L481.4,319.8 L480.8,320.2 L480,320.2 L479,319.8 L478,319.2 L476.9,318.4 L475.8,317.6 L474.9,316.9 L474,316.5 L473.3,316.5 L472.7,316.8 L472.1,317.5 L471.7,318.5 L471.3,319.6 L470.8,320.6 L470.3,321.6 L469.7,322.3 L469,322.6 L468.2,322.4 L467.3,321.9 L466.4,321.1 L465.5,320.1 L464.7,319.2 L463.9,318.3 L463.1,317.7 L462.4,317.5 L461.7,317.7 L461.1,318.3 L460.4,319.2 L459.8,320.2 L459.1,321.2 L458.4,322.1 L457.7,322.7 L456.9,322.9 Z" fill="url(#lum)"/>
<ellipse cx="451" cy="336.9" rx="1.6" ry="1.15" fill="#7047a4" transform="rotate(184.8 451 336.9)"/>
<ellipse cx="439.2" cy="337.1" rx="1.6" ry="1.15" fill="#7047a4" transform="rotate(194 439.2 337.1)"/>
<ellipse cx="427.5" cy="335.4" rx="1.6" ry="1.15" fill="#7047a4" transform="rotate(202.9 427.5 335.4)"/>
<ellipse cx="416.2" cy="331.9" rx="1.6" ry="1.15" fill="#7047a4" transform="rotate(211.6 416.2 331.9)"/>
<ellipse cx="405.5" cy="326.8" rx="1.6" ry="1.15" fill="#7047a4" transform="rotate(220.1 405.5 326.8)"/>
<ellipse cx="395.8" cy="320" rx="1.6" ry="1.15" fill="#7047a4" transform="rotate(228.3 395.8 320)"/>
<ellipse cx="387.4" cy="311.7" rx="1.6" ry="1.15" fill="#7047a4" transform="rotate(236.5 387.4 311.7)"/>
<ellipse cx="380.5" cy="302.1" rx="1.6" ry="1.15" fill="#7047a4" transform="rotate(244.5 380.5 302.1)"/>
<ellipse cx="375.3" cy="291.6" rx="1.6" ry="1.15" fill="#7047a4" transform="rotate(252.4 375.3 291.6)"/>
<ellipse cx="371.7" cy="280.3" rx="1.6" ry="1.15" fill="#7047a4" transform="rotate(260.2 371.7 280.3)"/>
<ellipse cx="369.7" cy="268.7" rx="1.6" ry="1.15" fill="#7047a4" transform="rotate(268 369.7 268.7)"/>
<ellipse cx="369.4" cy="256.9" rx="1.6" ry="1.15" fill="#7047a4" transform="rotate(275.7 369.4 256.9)"/>
<ellipse cx="370.7" cy="245.1" rx="1.6" ry="1.15" fill="#7047a4" transform="rotate(283.4 370.7 245.1)"/>
<ellipse cx="373.5" cy="233.7" rx="1.6" ry="1.15" fill="#7047a4" transform="rotate(290.9 373.5 233.7)"/>
<ellipse cx="377.8" cy="222.6" rx="1.6" ry="1.15" fill="#7047a4" transform="rotate(298.5 377.8 222.6)"/>
<ellipse cx="383.5" cy="212.3" rx="1.6" ry="1.15" fill="#7047a4" transform="rotate(306 383.5 212.3)"/>
<ellipse cx="390.7" cy="202.9" rx="1.6" ry="1.15" fill="#7047a4" transform="rotate(313.4 390.7 202.9)"/>
<ellipse cx="399" cy="194.5" rx="1.6" ry="1.15" fill="#7047a4" transform="rotate(320.8 399 194.5)"/>
<ellipse cx="408.3" cy="187.3" rx="1.6" ry="1.15" fill="#7047a4" transform="rotate(328.1 408.3 187.3)"/>
<ellipse cx="418.6" cy="181.5" rx="1.6" ry="1.15" fill="#7047a4" transform="rotate(335.4 418.6 181.5)"/>
<ellipse cx="429.6" cy="177.2" rx="1.6" ry="1.15" fill="#7047a4" transform="rotate(342.8 429.6 177.2)"/>
<ellipse cx="441" cy="174.3" rx="1.6" ry="1.15" fill="#7047a4" transform="rotate(350.1 441 174.3)"/>
<ellipse cx="452.7" cy="173" rx="1.6" ry="1.15" fill="#7047a4" transform="rotate(357.4 452.7 173)"/>
<ellipse cx="464.5" cy="173.3" rx="1.6" ry="1.15" fill="#7047a4" transform="rotate(364.7 464.5 173.3)"/>
<ellipse cx="476.1" cy="175.5" rx="1.6" ry="1.15" fill="#7047a4" transform="rotate(372 476.1 175.5)"/>
<ellipse cx="486.9" cy="180.3" rx="1.6" ry="1.15" fill="#7047a4" transform="rotate(379.3 486.9 180.3)"/>
<ellipse cx="496.7" cy="186.9" rx="1.6" ry="1.15" fill="#7047a4" transform="rotate(386.8 496.7 186.9)"/>
<ellipse cx="505.7" cy="194.5" rx="1.6" ry="1.15" fill="#7047a4" transform="rotate(394.4 505.7 194.5)"/>
<ellipse cx="513.7" cy="203.2" rx="1.6" ry="1.15" fill="#7047a4" transform="rotate(402.3 513.7 203.2)"/>
<ellipse cx="520.8" cy="212.7" rx="1.6" ry="1.15" fill="#7047a4" transform="rotate(410.3 520.8 212.7)"/>
<ellipse cx="526.7" cy="222.9" rx="1.6" ry="1.15" fill="#7047a4" transform="rotate(418.5 526.7 222.9)"/>
<ellipse cx="530.9" cy="234" rx="1.6" ry="1.15" fill="#7047a4" transform="rotate(426.8 530.9 234)"/>
<ellipse cx="533.2" cy="245.6" rx="1.6" ry="1.15" fill="#7047a4" transform="rotate(435.3 533.2 245.6)"/>
<ellipse cx="533.7" cy="257.4" rx="1.6" ry="1.15" fill="#7047a4" transform="rotate(443.9 533.7 257.4)"/>
<ellipse cx="532.4" cy="269.1" rx="1.6" ry="1.15" fill="#7047a4" transform="rotate(452.7 532.4 269.1)"/>
<ellipse cx="529.2" cy="280.5" rx="1.6" ry="1.15" fill="#7047a4" transform="rotate(461.7 529.2 280.5)"/>
<ellipse cx="523.9" cy="291.1" rx="1.6" ry="1.15" fill="#7047a4" transform="rotate(470.8 523.9 291.1)"/>
<ellipse cx="516.6" cy="300.4" rx="1.6" ry="1.15" fill="#7047a4" transform="rotate(480.3 516.6 300.4)"/>
<ellipse cx="507.6" cy="308" rx="1.6" ry="1.15" fill="#7047a4" transform="rotate(490 507.6 308)"/>
<ellipse cx="497.3" cy="314" rx="1.6" ry="1.15" fill="#7047a4" transform="rotate(500.2 497.3 314)"/>
<ellipse cx="486.2" cy="318" rx="1.6" ry="1.15" fill="#7047a4" transform="rotate(510.9 486.2 318)"/>
<ellipse cx="474.7" cy="320.8" rx="1.6" ry="1.15" fill="#7047a4" transform="rotate(522.3 474.7 320.8)"/>
<ellipse cx="462.9" cy="322.1" rx="1.6" ry="1.15" fill="#7047a4" transform="rotate(534.1 462.9 322.1)"/>
</g>
<defs><radialGradient id="pox" cx="0.6" cy="0.5" r="0.6"><stop offset="0" stop-color="#e8321c"/><stop offset="1" stop-color="#f6a21e"/></radialGradient><radialGradient id="pldl" cx="0.5" cy="0.5" r="0.6"><stop offset="0" stop-color="#f4a01c"/><stop offset="1" stop-color="#f5cb3a"/></radialGradient></defs>
<g clip-path="url(#plaqueclip)">
<circle cx="458.5" cy="330.2" r="1.8" fill="#dccb70" opacity="0.5"/>
<circle cx="388.9" cy="326.5" r="3" fill="#dccb70" opacity="0.5"/>
<circle cx="522.1" cy="325" r="2.6" fill="#f3eca0" opacity="0.5"/>
<circle cx="466.7" cy="356.7" r="1.6" fill="#f3eca0" opacity="0.5"/>
<circle cx="507.6" cy="315.8" r="2.9" fill="#f3eca0" opacity="0.5"/>
<circle cx="538.1" cy="289" r="2.1" fill="#dccb70" opacity="0.5"/>
<circle cx="481.6" cy="344.9" r="2" fill="#e3d35e" opacity="0.5"/>
<circle cx="439.9" cy="356.1" r="1.7" fill="#dccb70" opacity="0.5"/>
<circle cx="471.2" cy="351.7" r="1.8" fill="#e3d35e" opacity="0.5"/>
<circle cx="478" cy="340.9" r="1.8" fill="#dccb70" opacity="0.5"/>
<circle cx="540.7" cy="300.1" r="3.1" fill="#f3eca0" opacity="0.5"/>
<circle cx="518.5" cy="330.9" r="2" fill="#e3d35e" opacity="0.5"/>
<circle cx="386" cy="321.9" r="2.6" fill="#dccb70" opacity="0.5"/>
<circle cx="536.3" cy="300.7" r="1.5" fill="#f3eca0" opacity="0.5"/>
<path d="M-20,0 C-6,-3.4 6,-3.4 20,0 C6,3.4 -6,3.4 -20,0 Z" fill="#f7cfd3" transform="translate(414.9,335.5) rotate(29.8)"/>
<ellipse cx="414.9" cy="335.5" rx="2.6" ry="1.3" fill="#cbb6d8" transform="rotate(29.8 414.9 335.5)"/>
<path d="M-14,0 C-4.2,-3.4 4.2,-3.4 14,0 C4.2,3.4 -4.2,3.4 -14,0 Z" fill="#f7cfd3" transform="translate(485,323.4) rotate(5)"/>
<ellipse cx="485" cy="323.4" rx="2.6" ry="1.3" fill="#cbb6d8" transform="rotate(5 485 323.4)"/>
<path d="M-18.5,0 C-5.5,-3.4 5.5,-3.4 18.5,0 C5.5,3.4 -5.5,3.4 -18.5,0 Z" fill="#f7cfd3" transform="translate(503,333.5) rotate(-31.9)"/>
<ellipse cx="503" cy="333.5" rx="2.6" ry="1.3" fill="#cbb6d8" transform="rotate(-31.9 503 333.5)"/>
<path d="M-15.5,0 C-4.6,-3.4 4.6,-3.4 15.5,0 C4.6,3.4 -4.6,3.4 -15.5,0 Z" fill="#f7cfd3" transform="translate(481.2,349.9) rotate(4.2)"/>
<ellipse cx="481.2" cy="349.9" rx="2.6" ry="1.3" fill="#cbb6d8" transform="rotate(4.2 481.2 349.9)"/>
<circle cx="501.8" cy="326.6" r="0.95" fill="#2a84c8"/>
<circle cx="474.9" cy="356.3" r="0.7" fill="#8a5a1c"/>
<circle cx="545" cy="289.6" r="0.95" fill="#2a84c8"/>
<circle cx="502.6" cy="340.1" r="0.7" fill="#c8404e"/>
<circle cx="442.4" cy="346.5" r="0.7" fill="#8a5a1c"/>
<circle cx="471.7" cy="334.2" r="0.7" fill="#8a5a1c"/>
<circle cx="544" cy="296.4" r="0.65" fill="#c8404e"/>
<circle cx="488.1" cy="324" r="0.95" fill="#2a84c8"/>
<circle cx="479" cy="326.4" r="0.7" fill="#c8404e"/>
<circle cx="531.6" cy="312.2" r="0.7" fill="#c8404e"/>
<circle cx="529.5" cy="316.4" r="0.65" fill="#c8404e"/>
<circle cx="537.1" cy="303.5" r="0.95" fill="#2a84c8"/>
<circle cx="457.3" cy="349.9" r="0.95" fill="#2a84c8"/>
<circle cx="423.3" cy="350.1" r="0.65" fill="#c8404e"/>
<circle cx="487.1" cy="347.7" r="0.95" fill="#2a84c8"/>
<circle cx="495.1" cy="326.5" r="0.65" fill="#c8404e"/>
<circle cx="531.8" cy="316.7" r="0.7" fill="#8a5a1c"/>
<circle cx="535.1" cy="315.9" r="0.65" fill="#c8404e"/>
<circle cx="486.7" cy="325.2" r="0.7" fill="#c8404e"/>
<circle cx="402.5" cy="341.4" r="0.95" fill="#2a84c8"/>
<circle cx="464.9" cy="346.5" r="0.7" fill="#c8404e"/>
<circle cx="413.2" cy="341.2" r="0.95" fill="#2a84c8"/>
<circle cx="508.4" cy="324.1" r="0.95" fill="#2a84c8"/>
<circle cx="464.2" cy="338.8" r="0.95" fill="#2a84c8"/>
<circle cx="493.5" cy="344.1" r="0.7" fill="#8a5a1c"/>
<circle cx="501" cy="335.3" r="0.65" fill="#c8404e"/>
<circle cx="460.7" cy="355.1" r="0.7" fill="#c8404e"/>
<circle cx="439.3" cy="347.3" r="0.65" fill="#c8404e"/>
<circle cx="450.3" cy="356.1" r="0.7" fill="#8a5a1c"/>
<circle cx="400" cy="333.7" r="0.7" fill="#c8404e"/>
<circle cx="406.7" cy="338.8" r="0.7" fill="#c8404e"/>
<circle cx="473.5" cy="351" r="0.65" fill="#c8404e"/>
<circle cx="402.4" cy="334.7" r="0.95" fill="#2a84c8"/>
<circle cx="463.6" cy="351" r="0.65" fill="#c8404e"/>
<circle cx="477.4" cy="353.9" r="0.95" fill="#2a84c8"/>
<circle cx="530.9" cy="297.9" r="0.95" fill="#2a84c8"/>
<circle cx="482.1" cy="347.1" r="0.95" fill="#2a84c8"/>
<circle cx="401.8" cy="338.5" r="0.7" fill="#c8404e"/>
<circle cx="385.7" cy="325.4" r="0.7" fill="#c8404e"/>
<circle cx="458.5" cy="338.7" r="0.95" fill="#2a84c8"/>
<circle cx="514.9" cy="323.7" r="0.95" fill="#2a84c8"/>
<circle cx="460.8" cy="330.1" r="0.95" fill="#2a84c8"/>
<circle cx="382.2" cy="316.9" r="0.7" fill="#8a5a1c"/>
<circle cx="495.8" cy="350.5" r="0.95" fill="#2a84c8"/>
<circle cx="433.6" cy="356.2" r="0.65" fill="#c8404e"/>
<circle cx="514.7" cy="340.1" r="0.7" fill="#8a5a1c"/>
<circle cx="513.9" cy="310.3" r="0.95" fill="#2a84c8"/>
<circle cx="484.1" cy="334.2" r="0.95" fill="#2a84c8"/>
<circle cx="507.1" cy="336" r="0.95" fill="#2a84c8"/>
<circle cx="459.5" cy="359.6" r="0.65" fill="#c8404e"/>
<circle cx="467.3" cy="337.5" r="0.95" fill="#2a84c8"/>
<circle cx="436.6" cy="357.5" r="0.7" fill="#8a5a1c"/>
<circle cx="457.2" cy="333.2" r="0.95" fill="#2a84c8"/>
<circle cx="509.2" cy="331.3" r="0.95" fill="#2a84c8"/>
<circle cx="535" cy="298.7" r="0.95" fill="#2a84c8"/>
<circle cx="510.3" cy="327.3" r="0.95" fill="#2a84c8"/>
<circle cx="415" cy="338.7" r="0.65" fill="#c8404e"/>
<circle cx="492.4" cy="334.5" r="0.95" fill="#2a84c8"/>
<circle cx="467.5" cy="334.7" r="0.7" fill="#c8404e"/>
<circle cx="514.8" cy="321.1" r="0.65" fill="#c8404e"/>
<circle cx="447.5" cy="343.3" r="0.7" fill="#8a5a1c"/>
<circle cx="516.3" cy="315.3" r="0.65" fill="#c8404e"/>
<circle cx="404.1" cy="337" r="0.95" fill="#2a84c8"/>
<circle cx="494.7" cy="324.6" r="0.7" fill="#c8404e"/>
<circle cx="497.3" cy="330.1" r="0.7" fill="#c8404e"/>
<circle cx="446.3" cy="347.4" r="0.7" fill="#c8404e"/>
<circle cx="491.3" cy="331.3" r="0.95" fill="#2a84c8"/>
<circle cx="455.9" cy="355.2" r="0.7" fill="#c8404e"/>
<circle cx="507.8" cy="317.2" r="0.7" fill="#c8404e"/>
<circle cx="515.8" cy="312.6" r="0.95" fill="#2a84c8"/>
<circle cx="499.5" cy="340.4" r="0.95" fill="#2a84c8"/>
<circle cx="441.2" cy="349.1" r="0.7" fill="#c8404e"/>
<circle cx="462.5" cy="340.5" r="0.95" fill="#2a84c8"/>
<circle cx="546.3" cy="292.4" r="0.7" fill="#c8404e"/>
<circle cx="514.5" cy="311.1" r="0.95" fill="#2a84c8"/>
<circle cx="408.3" cy="341.1" r="0.65" fill="#c8404e"/>
<circle cx="532.2" cy="317.8" r="0.7" fill="#c8404e"/>
<circle cx="467.5" cy="351.2" r="0.7" fill="#8a5a1c"/>
<circle cx="513.8" cy="340.8" r="0.65" fill="#c8404e"/>
<circle cx="528.5" cy="318.8" r="0.7" fill="#c8404e"/>
<circle cx="503.4" cy="333.8" r="0.65" fill="#c8404e"/>
<circle cx="414.7" cy="341" r="0.95" fill="#2a84c8"/>
<circle cx="400.3" cy="338.5" r="0.7" fill="#8a5a1c"/>
<circle cx="520.4" cy="311" r="0.7" fill="#c8404e"/>
<circle cx="491.1" cy="343.3" r="0.95" fill="#2a84c8"/>
<circle cx="402.9" cy="333.6" r="0.7" fill="#c8404e"/>
<circle cx="505.9" cy="329.1" r="0.95" fill="#2a84c8"/>
<circle cx="491.4" cy="340.4" r="0.95" fill="#2a84c8"/>
<circle cx="454.8" cy="356.2" r="0.65" fill="#c8404e"/>
<circle cx="512.5" cy="336.9" r="0.65" fill="#c8404e"/>
<circle cx="460.5" cy="330.5" r="0.95" fill="#2a84c8"/>
<circle cx="498.5" cy="349.8" r="0.95" fill="#2a84c8"/>
<circle cx="488" cy="345.5" r="0.95" fill="#2a84c8"/>
<circle cx="469.4" cy="329.5" r="0.7" fill="#c8404e"/>
<circle cx="532.6" cy="312.8" r="0.95" fill="#2a84c8"/>
<circle cx="378.7" cy="314.3" r="1" fill="#2a84c8"/>
<circle cx="382.8" cy="323.7" r="1" fill="#2a84c8"/>
<circle cx="394.3" cy="326.2" r="1" fill="#2a84c8"/>
<circle cx="400.5" cy="336.1" r="1" fill="#2a84c8"/>
<circle cx="411.8" cy="340.2" r="1" fill="#2a84c8"/>
<circle cx="424.9" cy="336.8" r="1" fill="#2a84c8"/>
<circle cx="429.9" cy="352" r="1" fill="#2a84c8"/>
<circle cx="446.7" cy="353" r="1" fill="#2a84c8"/>
<circle cx="453.5" cy="350.2" r="1" fill="#2a84c8"/>
<circle cx="453.8" cy="339.9" r="1" fill="#2a84c8"/>
<ellipse cx="388.5" cy="321.8" rx="2.4" ry="1.8" fill="url(#pldl)"/>
<ellipse cx="404" cy="340.5" rx="2.4" ry="1.8" fill="url(#pldl)"/>
<ellipse cx="439.8" cy="346.7" rx="2.4" ry="1.8" fill="url(#pldl)"/>
<ellipse cx="503.3" cy="325.8" rx="2.4" ry="1.8" fill="url(#pldl)"/>
<ellipse cx="540" cy="307.4" rx="2.4" ry="1.8" fill="url(#pldl)"/>
<ellipse cx="527.9" cy="327.7" rx="2.4" ry="1.8" fill="url(#pldl)"/>
<ellipse cx="430.7" cy="340.9" rx="2.4" ry="1.9" fill="url(#pox)"/>
<ellipse cx="447.6" cy="358.3" rx="2.4" ry="1.9" fill="url(#pox)"/>
<ellipse cx="465.3" cy="338.1" rx="2.4" ry="1.9" fill="url(#pox)"/>
<ellipse cx="518.1" cy="320.6" rx="2.4" ry="1.9" fill="url(#pox)"/>
<ellipse cx="498.6" cy="350.2" rx="2.4" ry="1.9" fill="url(#pox)"/>
<path d="M377.4,307.5 Q376.4,308.5 376.5,309.9 Q375.1,310 374.3,311.1 Q373.2,310.3 371.8,310.7 Q371.5,309.4 370.2,308.8 Q370.8,307.5 370.2,306.2 Q371.5,305.6 371.8,304.3 Q373.2,304.7 374.3,303.9 Q375.1,305 376.5,305.1 Q376.4,306.5 377.4,307.5 Z" fill="#8a3a8c"/><circle cx="373.7" cy="307.5" r="2" fill="#b06fb4"/><circle cx="373.7" cy="307.5" r="1.1" fill="#6d2470"/>
<circle cx="393.4" cy="332.8" r="4.6" fill="#1c7a45"/><circle cx="393.4" cy="332.8" r="2.8" fill="#0f5a30"/><path d="M392,333.9 a1.7,1.7 0 1,1 1.6,1.4" fill="none" stroke="#5ab07a" stroke-width="1" stroke-linecap="round"/>
<circle cx="422.4" cy="349" r="5" fill="#1f6fb6"/><circle cx="421.9" cy="348.5" r="3.5" fill="#3792d6"/><path d="M420.1,350 q1,-3.5 3,-1.5 q2.5,2.5 -0.5,3.5" fill="none" stroke="#0d3b74" stroke-width="1.7" stroke-linecap="round"/><path d="M421.1,349.5 q1.5,-1.8 2.8,-0.5" fill="none" stroke="#dcefff" stroke-width="1" stroke-linecap="round"/>
<circle cx="448.8" cy="344.5" r="4.8" fill="#f7e84e"/><circle cx="448.8" cy="344.5" r="2.6" fill="#f3cf3a"/><circle cx="448.8" cy="344.5" r="1.4" fill="#f9ec70"/>
<path d="M549.6,289.5 Q548.1,291 548.3,293.1 Q546.2,293.3 545,295 Q543.2,293.8 541.2,294.3 Q540.7,292.3 538.7,291.4 Q539.6,289.5 538.7,287.6 Q540.7,286.7 541.2,284.7 Q543.2,285.2 545,284 Q546.2,285.7 548.3,285.9 Q548.1,288 549.6,289.5 Z" fill="#8a3a8c"/><circle cx="544" cy="289.5" r="3.1" fill="#b06fb4"/><circle cx="544" cy="289.5" r="1.7" fill="#6d2470"/>
<circle cx="526.3" cy="309.7" r="4.8" fill="#f7e84e"/><circle cx="526.3" cy="309.7" r="2.6" fill="#f3cf3a"/><circle cx="526.3" cy="309.7" r="1.4" fill="#f9ec70"/>
<circle cx="476.5" cy="335.4" r="5.5" fill="#86c552"/><circle cx="476.5" cy="335.4" r="3.6" fill="#a9da7c"/><circle cx="476.5" cy="335.4" r="1.9" fill="#c6e8a4"/>
<circle cx="466.8" cy="356" r="5" fill="#1f6fb6"/><circle cx="466.3" cy="355.5" r="3.5" fill="#3792d6"/><path d="M464.6,357 q1,-3.5 3,-1.5 q2.5,2.5 -0.5,3.5" fill="none" stroke="#0d3b74" stroke-width="1.7" stroke-linecap="round"/><path d="M465.6,356.5 q1.5,-1.8 2.8,-0.5" fill="none" stroke="#dcefff" stroke-width="1" stroke-linecap="round"/>
<g transform="translate(528.4,319.6) rotate(10) scale(0.9)" fill="none" stroke="#121212" stroke-width="2" stroke-linecap="round"><path d="M-3.4,-3 L0,0.2 L3,-3.4 M0,0.2 L0.6,4.2"/></g>
<g transform="translate(486.3,332.8) rotate(-35) scale(0.9)" fill="none" stroke="#121212" stroke-width="2" stroke-linecap="round"><path d="M-3.4,-3 L0,0.2 L3,-3.4 M0,0.2 L0.6,4.2"/></g>
<g transform="translate(463.2,328.4) rotate(-20) scale(0.6)" fill="none" stroke="#e8431f" stroke-width="1.2" stroke-linecap="round"><path d="M-3.4,-3 L0,0.2 L3,-3.4 M0,0.2 L0.6,4.2"/></g>
<g transform="translate(534.9,316.7) rotate(20) scale(0.6)" fill="none" stroke="#e8431f" stroke-width="1.2" stroke-linecap="round"><path d="M-3.4,-3 L0,0.2 L3,-3.4 M0,0.2 L0.6,4.2"/></g>
</g>
<circle cx="457" cy="265.6" r="98" fill="none" stroke="#667c70" stroke-width="3.6"/>
<line x1="456.4" y1="36" x2="456.4" y2="100" stroke="#fff" stroke-width="1.5"/>
<line x1="456.4" y1="100" x2="456.4" y2="165" stroke="#fff" stroke-width="1.2" stroke-dasharray="18.4 3.4 13.5 3.5 12.8 3.5 9.5 100"/>
<line x1="456.4" y1="322.9" x2="456.4" y2="454" stroke="#fff" stroke-width="1.2" stroke-dasharray="12.9 3.5"/>
<line x1="456.4" y1="36" x2="456.4" y2="100" stroke="#3c8a58" stroke-width="0.8" stroke-dasharray="3 3" opacity="0.8" transform="translate(0.9,0)"/>
<path d="M456.9,454.7 L493.1,490.9 L456.9,527.1 L420.7,490.9 Z" fill="#97215f" stroke="#fff" stroke-width="1.6"/>
<text x="456.9" y="490.2" text-anchor="middle" font-size="15.5" fill="#fff" stroke="#fff" stroke-width="0.25">CVD</text>
<text x="456.9" y="503.4" text-anchor="middle" font-size="15.5" fill="#fff" stroke="#fff" stroke-width="0.25">event</text>
<text x="453" y="255.2" text-anchor="middle" font-size="15.7" fill="#fff" stroke="#fff" stroke-width="0.2">Proatherogenic</text>
<text x="453" y="272.2" text-anchor="middle" font-size="15.7" fill="#fff" stroke="#fff" stroke-width="0.2">cycle</text>
<text x="212.4" y="20.9" font-size="15.7" fill="#8b1a5b" textLength="452.2" lengthAdjust="spacingAndGlyphs">Traditional and autoimmune-related mechanisms of CVD in SLE and APS</text>
<text transform="translate(311.8,141.2) rotate(-47.9)" x="0" y="4.6" text-anchor="middle" font-size="15.2" fill="#35863f" stroke="#35863f" stroke-width="0.2" textLength="146" lengthAdjust="spacingAndGlyphs">Endothelial dysfunction</text>
<text transform="translate(311.55,394.1) rotate(227.55)" x="0" y="4.6" text-anchor="middle" font-size="15.2" fill="#35863f" stroke="#35863f" stroke-width="0.2" textLength="160.4" lengthAdjust="spacingAndGlyphs">Subclinical atherosclerosis</text>
<g transform="translate(528.3,91.2) rotate(18.7)" font-size="15.2" fill="#376aa0" text-anchor="middle"><text x="-0.4" y="-6.4" textLength="126.4" lengthAdjust="spacingAndGlyphs">Impaired endothelial</text><text x="-0.4" y="14.1" textLength="52.2" lengthAdjust="spacingAndGlyphs">function</text></g>
<text transform="translate(633.8,273.2) rotate(-88.2)" x="0" y="4.6" text-anchor="middle" font-size="15.2" fill="#3578a6" textLength="245.5" lengthAdjust="spacingAndGlyphs">Early increase of intima-media thickness</text>
<g transform="translate(531,443) rotate(-19.7)" font-size="15.2" fill="#3775aa" text-anchor="middle"><text x="-1.8" y="-4.2" textLength="70.5" lengthAdjust="spacingAndGlyphs">Accelerated</text><text x="0" y="14" textLength="88.8" lengthAdjust="spacingAndGlyphs">atherosclerosis</text></g>
<rect x="38.7" y="161.1" width="157.5" height="247.7" fill="none" stroke="#2f7a40" stroke-width="1.25"/>
<text x="116.3" y="152.6" text-anchor="middle" font-size="15.2" fill="#6a9a5c" textLength="112.6" lengthAdjust="spacingAndGlyphs">Classic risk factors</text>
<g font-size="15.2" fill="#141012" stroke="#141012" stroke-width="0.18" text-anchor="middle">
<text x="117.4" y="177.1">MetS</text>
<text x="117.4" y="194.4">Obesity</text>
<text x="117.4" y="210.8">Smoking</text>
<text x="117.4" y="227.6">Dyslipidemia</text>
<text x="117.4" y="246.8">Advanced age</text>
<text x="117.4" y="263.1">Menopausal status</text>
<text x="117.4" y="279">Family history of CVD</text>
<text x="117.4" y="297.2">Hyperhomocysteinemia</text>
<text x="117.4" y="315">Sedentary lifestyle</text>
<text x="117.4" y="330.8">Renal impairment</text>
<text x="117.4" y="347.7">Hypertension</text>
<text x="117.4" y="365">Male gender</text>
<text x="117.4" y="384.3">T2DM/IR</text>
<text x="117.4" y="399.9">HRT</text>
</g>
<rect x="702.6" y="105.5" width="218.1" height="311" fill="none" stroke="#2c7c9d" stroke-width="1.3"/>
<rect x="712" y="324.2" width="199.2" height="166.5" fill="none" stroke="#2c7c9d" stroke-width="1.3"/>
<g font-size="15.2" fill="#2a7a9d" stroke="#2a7a9d" stroke-width="0.12" text-anchor="middle">
<text x="811.2" y="97.7" textLength="106.3" lengthAdjust="spacingAndGlyphs">Novel risk factors</text>
<text x="811.2" y="121.9" textLength="118.4" lengthAdjust="spacingAndGlyphs">SLE-specific factors</text>
<text x="811.2" y="139.8" textLength="63.1" lengthAdjust="spacingAndGlyphs">SLE per se</text>
<text x="811.2" y="155.8" textLength="131.4" lengthAdjust="spacingAndGlyphs">Genetic determinants</text>
<text x="808.7" y="171.8" textLength="157.8" lengthAdjust="spacingAndGlyphs">Proinflammatory markers</text>
<text x="811.2" y="188.1" textLength="92.7" lengthAdjust="spacingAndGlyphs">Circulating ICs</text>
<text x="811.2" y="205" textLength="123.1" lengthAdjust="spacingAndGlyphs">Hyperprolactinemia</text>
<text x="811.2" y="222.7" textLength="201" lengthAdjust="spacingAndGlyphs">SLE disease activity and duration</text>
<text x="811.2" y="238.5" textLength="89.2" lengthAdjust="spacingAndGlyphs">Organ damage</text>
<text x="811.2" y="254.8" textLength="94.8" lengthAdjust="spacingAndGlyphs">Lupus nephritis</text>
<text x="811.2" y="271.6" textLength="156.6" lengthAdjust="spacingAndGlyphs">Endogenous dyslipidemia</text>
<text x="811.2" y="287.6" textLength="135.4" lengthAdjust="spacingAndGlyphs">Premature menopause</text>
<text x="811.2" y="303.2" textLength="73.8" lengthAdjust="spacingAndGlyphs">Medications</text>
<text x="811.2" y="319.5" textLength="85.7" lengthAdjust="spacingAndGlyphs">Miscellaneous</text>
<text x="811.2" y="338.9" textLength="129.4" lengthAdjust="spacingAndGlyphs">Common risk factors</text>
<text x="812.4" y="356.7" textLength="113.1" lengthAdjust="spacingAndGlyphs">Polyautoimmunity</text>
<text x="811.2" y="375.1" textLength="173.8" lengthAdjust="spacingAndGlyphs">Antiphospholipid antibodies</text>
<text x="811.2" y="393.2" textLength="192.8" lengthAdjust="spacingAndGlyphs">Endothelial adhesion molecules</text>
<text x="811.2" y="409.1" textLength="81" lengthAdjust="spacingAndGlyphs">Vasculopathy</text>
<text x="811.2" y="439" textLength="120.9" lengthAdjust="spacingAndGlyphs">APS-specific factors</text>
<text x="811.2" y="457.4" textLength="129.9" lengthAdjust="spacingAndGlyphs">Other autoantibodies</text>
<text x="811.2" y="475.1" textLength="153.6" lengthAdjust="spacingAndGlyphs">Immune cells aberrations</text>
</g>
<rect x="394.7" y="541.9" width="553.6" height="71.1" fill="none" stroke="#e03a32" stroke-width="1.2"/>
<path d="M394.7,570.8 L405.8,577 L394.7,583.2 Z" fill="#e03a32"/>
<g font-size="15.2" fill="#e03a32" stroke="#e03a32" stroke-width="0.14">
<circle cx="406.7" cy="551.3" r="2.0" stroke="none"/>
<text x="414" y="555.4" textLength="532.5" lengthAdjust="spacingAndGlyphs">Aggressive treatment of SLE activity, immunomodulatory drugs (AMs, CYC, and MMF)</text>
<circle cx="406.7" cy="569.4" r="2.0" stroke="none"/>
<text x="414" y="573.5" textLength="346.7" lengthAdjust="spacingAndGlyphs">Anticoagulation therapy; thromboprophylactic treatment</text>
<circle cx="406.7" cy="587.5" r="2.0" stroke="none"/>
<text x="414" y="591.6" textLength="476.6" lengthAdjust="spacingAndGlyphs">Monitoring and treatment of CVD risk factors (traditional and nontraditional)</text>
<circle cx="406.7" cy="605.6" r="2.0" stroke="none"/>
<text x="414" y="609.7" textLength="375.5" lengthAdjust="spacingAndGlyphs">Other medications: aspirin, statins, IECAs, and AT II blockers</text>
</g>
<text transform="translate(364.9,578.6) rotate(-90)" x="0" y="4.8" text-anchor="middle" font-size="15.2" fill="#e03a32">Management</text>
<text transform="translate(384.5,576.8) rotate(-90)" x="0" y="4.6" text-anchor="middle" font-size="15.2" fill="#e03a32" textLength="55" lengthAdjust="spacingAndGlyphs">strategies</text>
<text transform="translate(27.4,582.5) rotate(-90)" x="0" y="5" text-anchor="middle" font-size="15.2" fill="#4b2c87">Icons</text>
<defs>
<radialGradient id="gox" cx="0.6" cy="0.5" r="0.6"><stop offset="0" stop-color="#e8321c"/><stop offset="1" stop-color="#f6a21e"/></radialGradient>
<radialGradient id="gldl" cx="0.5" cy="0.5" r="0.6"><stop offset="0" stop-color="#f4a81c"/><stop offset="1" stop-color="#f6cf2a"/></radialGradient>
</defs>
<path d="M52.5,544.1 Q51.1,545.4 51.6,547.3 Q49.7,547.7 49.1,549.5 Q47.3,548.8 45.8,549.9 Q44.6,548.4 42.7,548.6 Q42.6,546.7 40.9,545.8 Q41.9,544.1 40.9,542.4 Q42.6,541.5 42.7,539.6 Q44.6,539.8 45.8,538.3 Q47.3,539.4 49.1,538.7 Q49.7,540.5 51.6,540.9 Q51.1,542.8 52.5,544.1 Z" fill="#7d3071" stroke="#6a2260" stroke-width="0.5"/><circle cx="46.6" cy="544.1" r="3.2" fill="#9a4f90"/><circle cx="46.8" cy="544.1" r="1.9" fill="#6d2463"/><circle cx="46.8" cy="544.1" r="0.8" fill="#c58cc0"/>
<circle cx="46.6" cy="563.6" r="5.8" fill="#2478bd"/><circle cx="45.7" cy="562.7" r="4.2" fill="#3a94d6" opacity="0.8"/><path d="M44,564.5 q1.2,-4.1 3.5,-1.7 q2.9,2.9 -0.6,4.1" fill="none" stroke="#0e3f78" stroke-width="2" stroke-linecap="round"/><path d="M45.1,564.2 q1.7,-2 3.2,-0.6" fill="none" stroke="#d8ecfa" stroke-width="1.2" stroke-linecap="round"/>
<circle cx="46.6" cy="582.7" r="5.1" fill="#1c7a45"/><circle cx="46.6" cy="583" r="3.2" fill="#0f5a30"/><path d="M45.1,584 a1.8,1.8 0 1,1 1.8,1.5" fill="none" stroke="#5ab07a" stroke-width="1" stroke-linecap="round"/>
<circle cx="46.6" cy="601.2" r="5.7" fill="#86c552"/><circle cx="46.6" cy="601.2" r="3.8" fill="#a6d878"/><circle cx="46.6" cy="601.2" r="2.1" fill="#bfe49a"/><circle cx="46.6" cy="601.2" r="3" fill="none" stroke="#79b946" stroke-width="0.5"/>
<circle cx="46.6" cy="620.8" r="2.2" fill="#f6e6ec" stroke="#c23a4e" stroke-width="1.7"/>
<path d="M133.2,538.8 Q135.9,537.4 139.5,538.3 Q143.1,539.2 144,542 Q144.9,544.9 143.8,547.6 Q142.7,550.3 139,550.7 Q135.2,551 133,549.2 Q130.9,547.4 130.7,543.8 Q130.5,540.2 133.2,538.8 Z" fill="#f6e652" stroke="#f9ee8a" stroke-width="0.6"/><circle cx="137.7" cy="544.6" r="3.6" fill="#f3d23c"/><circle cx="137.7" cy="544.6" r="1.9" fill="#f7e660"/>
<g transform="translate(137.3,563.6) rotate(0)"><path d="M-14,0 C-7.7,-0.7 -4.2,-2.6 0,-2.6 C4.2,-2.6 7.7,-0.7 14,0 C7.7,0.7 4.2,2.6 0,2.6 C-4.2,2.6 -7.7,0.7 -14,0 Z" fill="#f6cdd0"/></g>
<ellipse cx="137.3" cy="563.7" rx="2.2" ry="1.1" fill="#cdb9d6"/>
<ellipse cx="137.7" cy="582.7" rx="3.7" ry="2.7" fill="url(#gox)"/>
<ellipse cx="137.7" cy="601.2" rx="3.7" ry="2.6" fill="url(#gldl)"/>
<path d="M136.1,626 C137,622.5 138.4,619 139.6,616.6 C140,615.4 139,615 137.9,615.7" fill="none" stroke="#b5813c" stroke-width="1.5" stroke-linecap="round"/>
<circle cx="285.4" cy="544" r="1.5" fill="#c8404e"/>
<circle cx="285.4" cy="563.5" r="1.7" fill="#2a88c8"/>
<g transform="translate(285.7,583) rotate(0) scale(1)" fill="none" stroke="#e8431f" stroke-width="1.7" stroke-linecap="round"><path d="M-3.6,-3.4 L0,0.3 L2.6,-4.2 M0,0.3 L1.8,4.6"/></g>
<g transform="translate(285.8,602.2) scale(1) translate(-285.8,-602.2)" fill="none" stroke="#151515" stroke-linecap="round"><path d="M283.3,599.8 L282.9,604.6 L290.2,605.4 Z" fill="#4a4a4a" stroke="none" opacity="0.75"/><path d="M283.9,594.6 L292.4,608.2" stroke-width="2.7"/><path d="M284.3,595.2 L282.2,592.4 M284.6,595 L285.3,591.9 M292.1,607.8 L292.6,611.3 M292.3,607.6 L294.9,609.5" stroke-width="1.15"/><path d="M284.8,603.5 L277.7,607.8" stroke-width="1.7"/><ellipse cx="286.1" cy="598.1" rx="0.75" ry="0.5" fill="#d9cfe0" stroke="none" transform="rotate(58 286.1 598.1)"/><ellipse cx="288.3" cy="601.7" rx="0.75" ry="0.5" fill="#d9cfe0" stroke="none" transform="rotate(58 288.3 601.7)"/><ellipse cx="290.5" cy="605.2" rx="0.75" ry="0.5" fill="#d9cfe0" stroke="none" transform="rotate(58 290.5 605.2)"/></g>
<circle cx="283" cy="622" r="1.4" fill="#8a5a1c"/><circle cx="288.1" cy="619.1" r="1.3" fill="#8a5a1c"/>
<g font-size="11.3" fill="#1a1718" stroke="#1a1718" stroke-width="0.24">
<text x="61.9" y="545.7" textLength="56.8" lengthAdjust="spacingAndGlyphs">Macrophage</text>
<text x="61.9" y="566.8" textLength="50.2" lengthAdjust="spacingAndGlyphs">Neutrophil</text>
<text x="61.9" y="585.2">Monocyte</text>
<text x="61.9" y="604.5">CD4+ T cell</text>
<text x="61.9" y="623.2">Pathogen</text>
<text x="161.4" y="545.7">Foam cell</text>
<text x="161.4" y="566.8">Myocyte</text>
<text x="161.4" y="585.2">oxLDL/<tspan font-style="italic">β</tspan>2GPI complex</text>
<text x="161.4" y="604.5">LDL</text>
<text x="161.4" y="623.2" textLength="74.5" lengthAdjust="spacingAndGlyphs">VCAM/ICAM-1</text>
<text x="304.7" y="545.6">Cytokine</text>
<text x="304.7" y="566.2">Calcium</text>
<text x="304.7" y="584.9">Auto-Ab</text>
<text x="304.7" y="604">CIC</text>
<text x="304.7" y="623.5" textLength="48.3" lengthAdjust="spacingAndGlyphs">HSP 60/65</text>
</g>
</svg></body></html>
